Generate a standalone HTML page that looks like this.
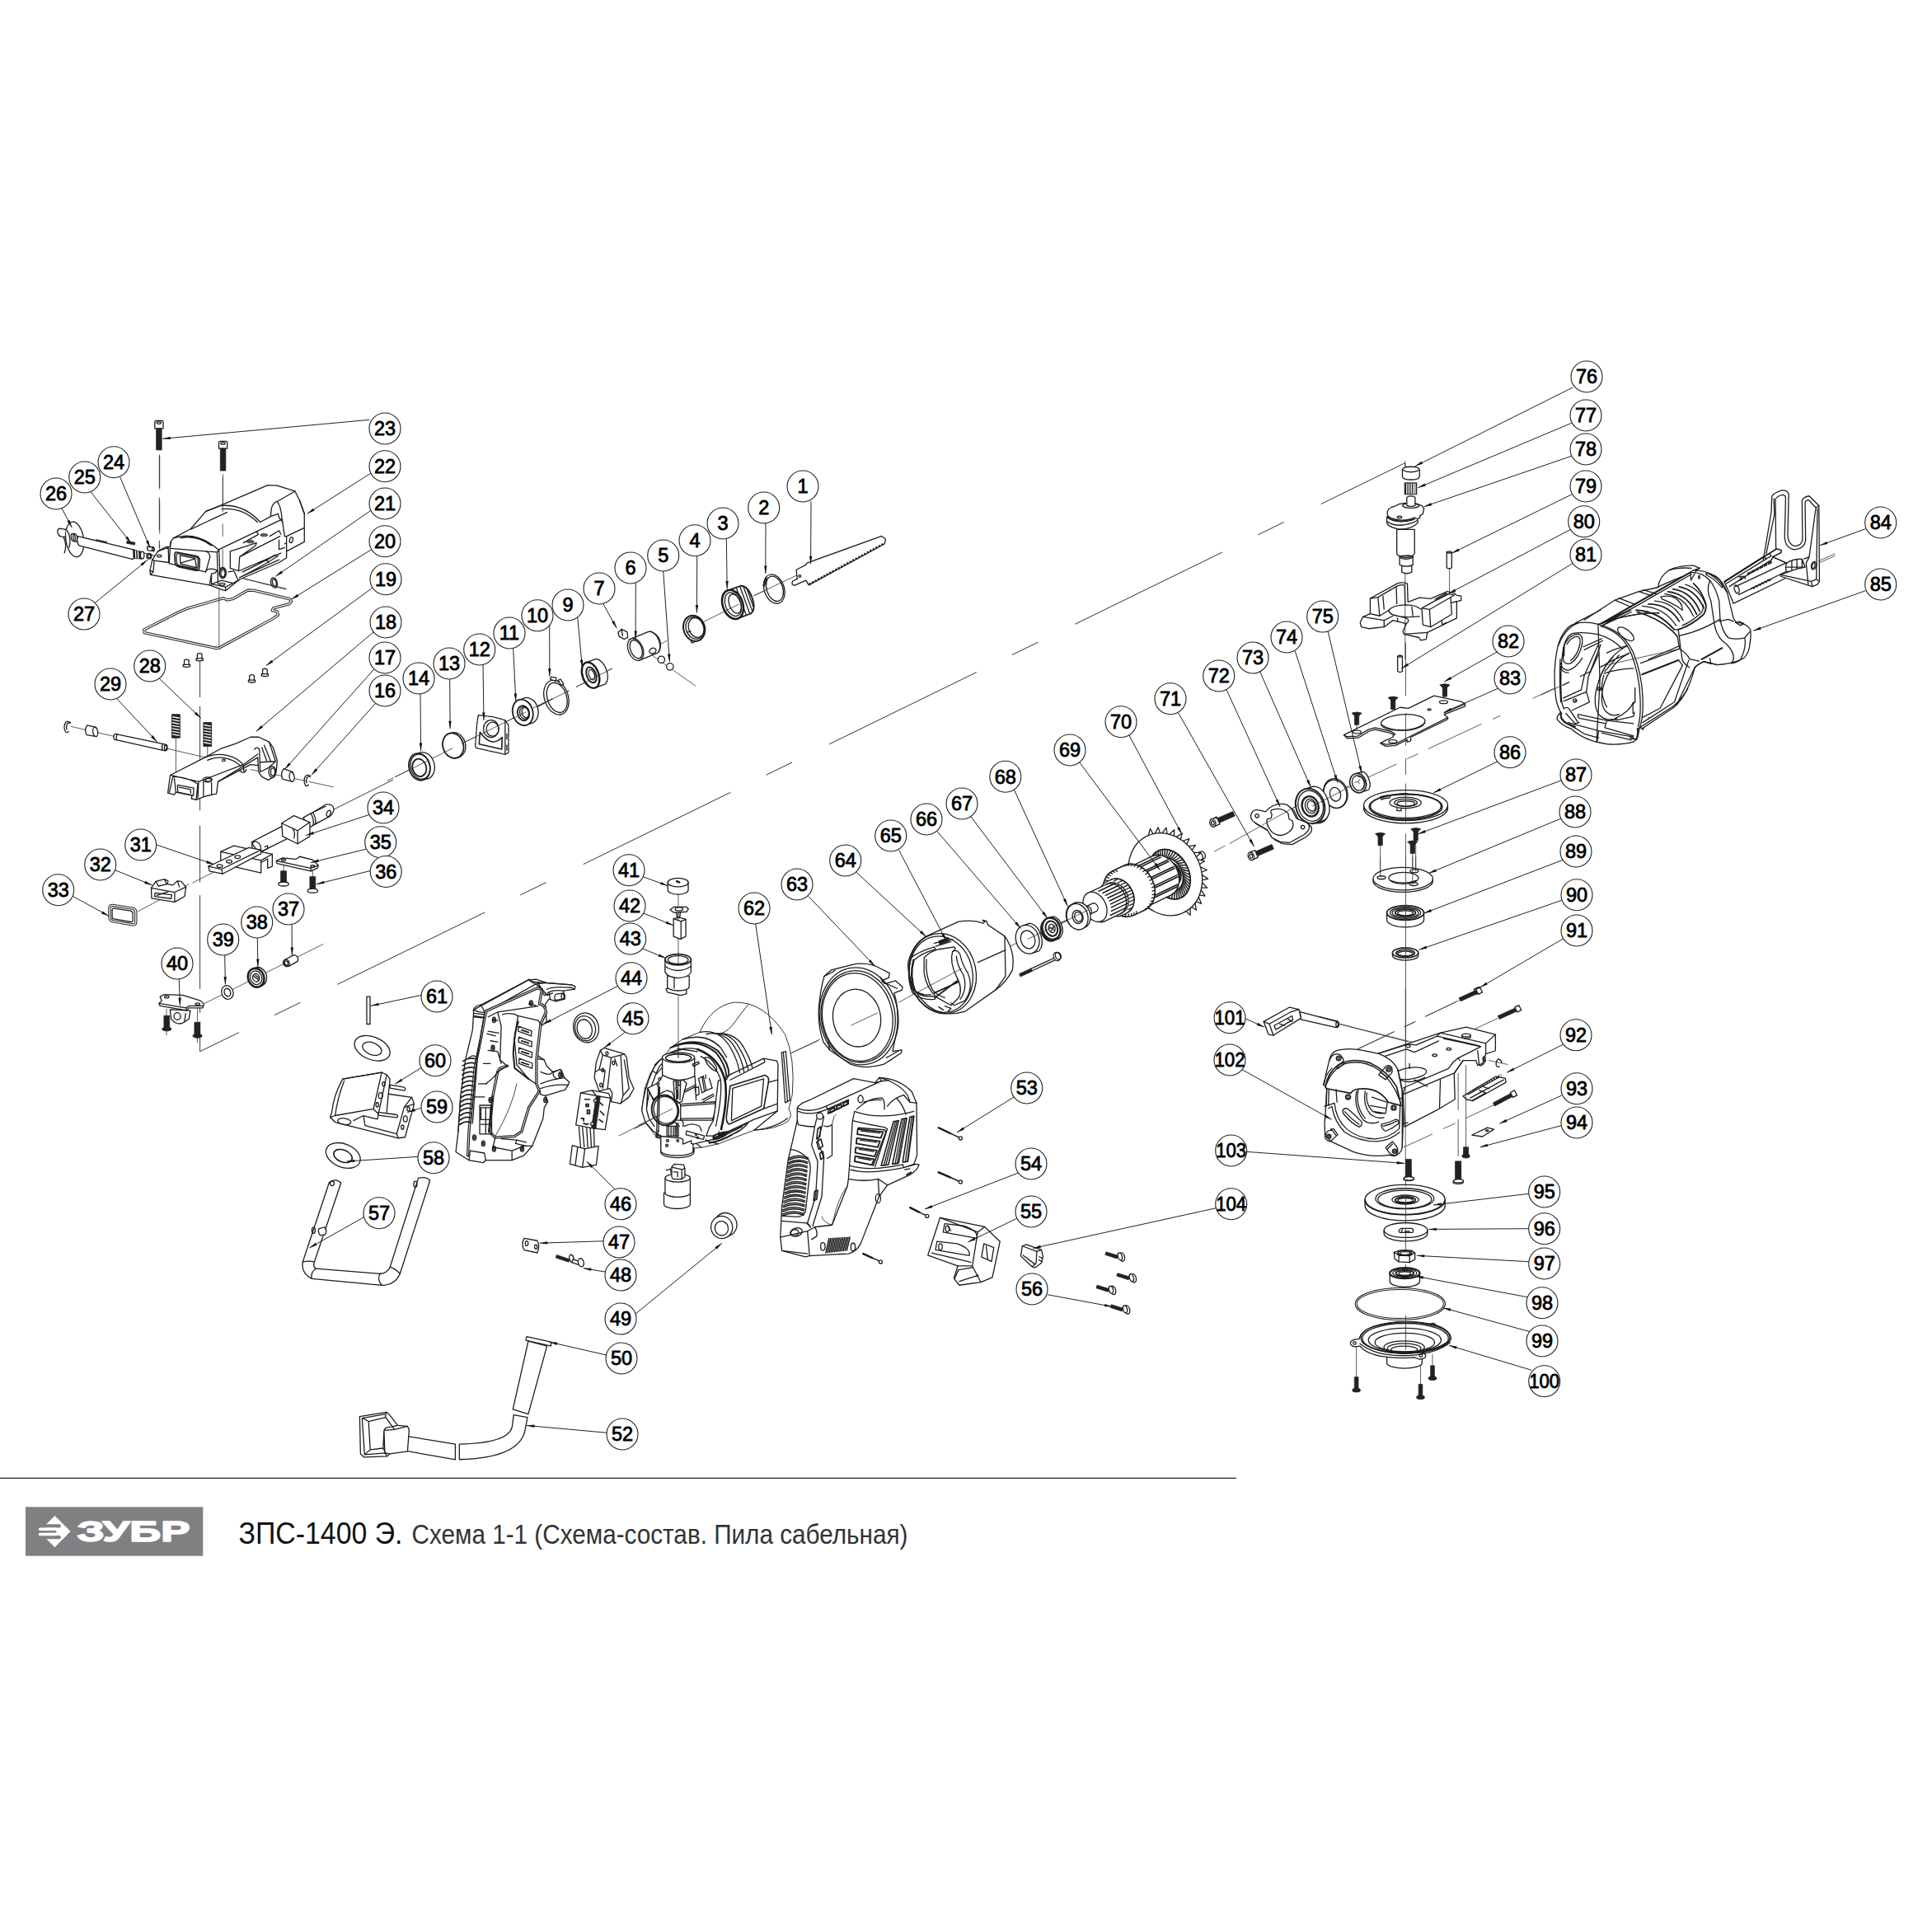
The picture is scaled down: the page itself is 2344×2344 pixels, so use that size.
<!DOCTYPE html>
<html lang="ru"><head><meta charset="utf-8"><title>ЗПС-1400 Э. Схема 1-1</title>
<style>
html,body{margin:0;padding:0;background:#fff;}
body{width:2344px;height:2344px;overflow:hidden;position:relative;font-family:"Liberation Sans",sans-serif;}
svg{position:absolute;left:0;top:0;display:block}
.p,.n,.t,.k,.g,.w{vector-effect:non-scaling-stroke}
.p{fill:#fff;stroke:#1c1c1c;stroke-width:1.3;stroke-linejoin:round;stroke-linecap:round}
.n{fill:none;stroke:#1c1c1c;stroke-width:1.3;stroke-linejoin:round;stroke-linecap:round}
.t{fill:none;stroke:#333;stroke-width:.8;stroke-linejoin:round;stroke-linecap:round}
.k{fill:#222;stroke:#222;stroke-width:.8;stroke-linejoin:round}
.g{fill:#ddd;stroke:#222;stroke-width:1}
.w{fill:none;stroke:#fff;stroke-width:1.3;stroke-linejoin:round}
.th{fill:none;stroke:#222;stroke-width:3.4;stroke-linejoin:round;vector-effect:non-scaling-stroke}
.ld{stroke:#222;stroke-width:1;fill:none}
.ar{fill:#111;stroke:none}
.ds{stroke:#333;stroke-width:1;fill:none;stroke-dasharray:46 16}
.dv{stroke:#333;stroke-width:1;fill:none;stroke-dasharray:40 12}
.ax{stroke:#222;stroke-width:.9;fill:none}
.lc{fill:#fff;stroke:#222;stroke-width:1.1}
.lt{font-family:"Liberation Sans",sans-serif;font-size:23.5px;fill:#000;stroke:#000;stroke-width:.8;text-anchor:middle}
</style></head><body>
<svg xmlns="http://www.w3.org/2000/svg" width="2344" height="2344" viewBox="0 0 2344 2344">
<g id="axes">

<line class="ds" x1="1704.7" y1="561.7" x2="242.7" y2="1275.7" style="stroke-dasharray:199 50 35 48;stroke-dashoffset:85.4"/>
<line class="ax" x1="1704.7" y1="561.7" x2="1704.7" y2="572"/>
<path class="ax" d="M242.6,1275.7V1239.4M242.6,1228.8V1213M242.6,1199.7V1086.2M242.6,1070.4V1001.8M242.6,983.3V856.6M242.6,846V798"/>
<line class="ax" x1="405" y1="982" x2="477" y2="946"/>
<line class="dv" x1="193.3" y1="551.7" x2="193.3" y2="665"/>
<line class="ax" x1="93" y1="650" x2="346.7" y2="715"/>

</g>
<g id="a01_topleft">
<g transform="translate(40,490) scale(0.18634)">
<!-- axes -->
<path class="t" d="M825,340V1000" stroke-dasharray="40 14"/>
<path class="t" d="M1237,460V700"/>
<path class="t" d="M300,880L700,975"/>
<!-- gasket 20 -->
<path class="th" d="M723,1470L950,1355L1010,1330L1240,1265L1265,1277L1300,1270L1400,1213L1440,1215L1670,1270L1682,1285L1670,1302L1565,1330L1558,1345L1590,1352L1596,1375L1560,1400L1210,1590L1190,1590L725,1490Z"/>
<path class="w" d="M723,1470L950,1355L1010,1330L1240,1265L1265,1277L1300,1270L1400,1213L1440,1215L1670,1270L1682,1285L1670,1302L1565,1330L1558,1345L1590,1352L1596,1375L1560,1400L1210,1590L1190,1590L725,1490Z"/>
<path class="t" d="M1212,1190V1585"/>
<!-- clip 21 -->
<ellipse class="p" cx="1570" cy="1165" rx="20" ry="34" transform="rotate(-15 1570 1165)"/>
<ellipse class="n" cx="1572" cy="1165" rx="12" ry="24" transform="rotate(-15 1570 1165)"/>
<!-- screws 23 -->
<path class="p" d="M793,120Q793,110 803,110H838Q848,110 848,120V160H793Z"/><ellipse class="n" cx="820" cy="124" rx="14" ry="7"/>
<rect class="k" x="803" y="160" width="35" height="140"/>
<path class="p" d="M1210,253Q1210,243 1220,243H1255Q1265,243 1265,253V290H1210Z"/><ellipse class="n" cx="1237" cy="257" rx="14" ry="7"/>
<rect class="k" x="1220" y="290" width="35" height="145"/>
<!-- lever 26 -->
<path class="p" d="M160,830Q160,810 180,812L215,818L218,868L185,865Q162,860 160,830Z"/>
<ellipse class="p" cx="272" cy="882" rx="58" ry="115" transform="rotate(-8 272 882)"/>
<path class="p" d="M210,818C235,830 250,880 235,935" />
<path class="n" d="M200,870C215,900 215,940 205,970"/>
<path class="p" d="M292,862L660,950Q680,985 650,1012L300,922Q280,895 292,862Z"/>
<ellipse class="n" cx="275" cy="872" rx="13" ry="26" transform="rotate(-10 275 872)"/>
<ellipse class="n" cx="262" cy="870" rx="13" ry="26" transform="rotate(-10 262 870)"/>
<path class="k" d="M652,950L700,960L705,1010L655,1005Z"/>
<path class="w" d="M668,955L670,1005M684,958L686,1008"/>
<ellipse class="p" cx="712" cy="985" rx="12" ry="24"/>
<path class="n" d="M410,885L480,900"/>
<!-- 25 spring -->
<path class="k" d="M612,893L665,903L663,918L610,908Z"/>
<!-- 24 -->
<path class="p" d="M745,928L778,932Q792,940 788,958L750,955Q740,942 745,928Z"/>
<ellipse class="n" cx="783" cy="945" rx="7" ry="13"/>
<!-- 27 -->
<ellipse class="p" cx="756" cy="992" rx="16" ry="18"/><ellipse class="n" cx="757" cy="992" rx="9" ry="11"/>
<!-- pins 19 -->
<g transform="translate(1000,1690)"><path class="p" d="M-15,-22Q0,-30 15,-22V8H22V20Q0,28 -22,20V8H-15Z"/><path class="n" d="M-15,8H15"/></g><g transform="translate(1085,1650)"><path class="p" d="M-15,-22Q0,-30 15,-22V8H22V20Q0,28 -22,20V8H-15Z"/><path class="n" d="M-15,8H15"/></g><g transform="translate(1425,1790)"><path class="p" d="M-15,-22Q0,-30 15,-22V8H22V20Q0,28 -22,20V8H-15Z"/><path class="n" d="M-15,8H15"/></g><g transform="translate(1510,1750)"><path class="p" d="M-15,-22Q0,-30 15,-22V8H22V20Q0,28 -22,20V8H-15Z"/><path class="n" d="M-15,8H15"/></g>
</g>

</g>
<g id="a01b_housing22">
<g transform="translate(170,580) scale(0.11387)">
<path class="p" d="M105,985L130,870L190,780L270,735L320,730L325,680L355,640L540,540L700,355L850,295L1360,75L1460,80L1650,140L1700,240L1750,380L1750,680L1560,780L1560,850L1480,900L1060,1080L910,1200L890,1195L740,1140L110,1030Z"/>
<path class="n" d="M355,640Q600,560 830,760M430,640Q600,600 760,720M320,730L330,680M330,750L820,790L840,760L1240,570M540,545L925,365M700,355Q770,330 850,295"/>
<path class="n" d="M850,295Q1100,270 1280,470M870,330Q1090,310 1250,470M1280,470L1390,410L1400,320Q1420,260 1460,250L1650,140M1460,250Q1500,300 1510,420L1540,620M1390,410L1470,380L1480,420L1520,470M1700,240L1750,380"/>
<path class="n" d="M1560,620L1750,530M1560,780V620L1540,620M1480,660L1480,760L1540,740M1540,700L1560,690"/>
<ellipse class="n" cx="1610" cy="660" rx="17" ry="30" transform="rotate(15 1610 660)"/>
<path class="n" d="M320,730L310,910L700,1000M190,780L300,740L305,900L150,880M105,985L140,1000L150,880L130,870M140,1000L110,1030"/>
<ellipse class="n" cx="205" cy="830" rx="22" ry="12"/>
<path class="n" style="stroke-width:1.6" d="M390,790L600,830Q635,840 635,880L630,960Q625,990 590,985L410,945Q375,935 372,900L368,820Q370,785 390,790Z"/>
<path class="n" d="M405,805L595,842Q618,848 618,880L614,950Q610,972 588,968L420,932Q392,925 390,900L386,832Q388,802 405,805ZM425,825L585,855L600,955L430,915ZM430,905L585,860"/>
<path class="n" d="M700,780Q740,790 745,840L700,1000M820,790L830,1130M840,760L850,1010M700,985Q760,950 820,985L800,1010L760,1020L740,1140M760,1020V1135"/>
<ellipse class="n" cx="880" cy="1010" rx="36" ry="56" style="stroke-width:1.6"/><ellipse class="n" cx="882" cy="1012" rx="22" ry="40"/>
<path class="n" d="M760,1130L870,1090L990,1120L910,1160ZM910,1160V1200M990,1120L1060,1080"/>
<ellipse class="n" cx="875" cy="1130" rx="30" ry="12"/>
<path class="n" d="M960,780L1240,690L1230,720L1060,840L1050,990L960,960ZM1060,840L1490,620M1050,990L1500,800M1090,1000Q1300,900 1440,820L1470,830Q1300,940 1100,1040M1060,1060L1480,870M940,1000L1000,990L1040,1080M1240,570L1260,600L1100,690M1380,620L1480,560L1500,600M1240,570L1510,440"/>
<ellipse class="k" cx="1175" cy="678" rx="40" ry="14" style="fill:#666"/><ellipse class="k" cx="1320" cy="607" rx="40" ry="14" style="fill:#666"/>
<path class="n" d="M1340,880Q1400,840 1440,820M1350,870L1370,900"/>
<path class="t" d="M880,0V360"/><path class="t" d="M880,490V620M880,760V1000" />
<path class="t" d="M1100,1070L1560,1180"/>
</g>

</g>
<g id="a02_lowerleft">
<g transform="translate(60,850) scale(0.19669)">
<path class="t" d="M135,160L960,350M1240,425L1580,495"/>
<path class="t" d="M1600,500L1760,535" stroke-dasharray="30 10"/>
<path class="t" d="M780,230V440M975,280V480"/>
<!-- e-clip -->
<path class="n" d="M128,135C100,115 85,150 95,185C100,200 110,198 118,190M128,140C112,130 100,150 106,178"/>
<!-- sleeve -->
<path class="p" d="M232,152L288,165Q300,190 290,222L230,212Q212,185 232,152Z"/>
<ellipse class="p" cx="283" cy="193" rx="15" ry="29" transform="rotate(-8 283 193)"/>
<!-- pin 29 -->
<path class="p" d="M405,205L715,270Q735,290 712,310L400,240Q390,220 405,205Z"/>
<path class="n" d="M418,208Q408,225 414,243M700,268Q690,285 697,305"/>
<ellipse class="n" cx="718" cy="290" rx="9" ry="18"/>
<!-- springs -->
<path class="k" d="M755,85H805V230H755Z" fill="#555"/>
<path class="w" d="M758,100L802,108M758,118L802,126M758,136L802,144M758,154L802,162M758,172L802,180M758,190L802,198M758,208L802,216"/>
<path class="k" d="M950,135H1000V282H950Z" fill="#555"/>
<path class="w" d="M953,150L997,158M953,168L997,176M953,186L997,194M953,204L997,212M953,222L997,230M953,240L997,248M953,258L997,266"/>
<!-- housing 18 -->
<path class="p" d="M745,460L960,350L1060,295L1150,265L1240,225L1290,225L1355,255L1380,290L1405,370L1400,430L1385,470L1350,490L1310,470L1290,440L1285,350L1040,500L1030,575L960,590L905,612L875,605L880,585L780,565L770,580L730,570Z"/>
<path class="n" d="M960,350C1050,312 1150,340 1195,395M975,368C1050,335 1130,355 1180,405"/>
<path class="n" d="M745,460L920,500L1195,395L1285,330M760,470C820,470 880,490 915,515L905,612M920,500L915,600"/>
<path class="n" d="M790,520L890,540L888,585L792,565ZM800,535L870,548L872,570"/>
<path class="n" d="M760,475L740,565M770,480L780,565"/>
<ellipse class="n" cx="975" cy="487" rx="28" ry="15"/><ellipse class="n" cx="980" cy="490" rx="18" ry="9"/>
<path class="n" d="M950,500V590M1000,505V580M1040,500L1240,395L1290,400"/>
<ellipse class="n" cx="1075" cy="368" rx="10" ry="6"/>
<path class="n" d="M1195,395L1200,440M1170,430Q1200,460 1215,425"/>
<path class="n" d="M1265,300Q1280,280 1295,300L1300,440M1310,290L1340,370M1325,275L1365,375M1355,255L1395,375M1300,380L1395,375L1350,415L1300,440"/>
<ellipse class="n" cx="1375" cy="440" rx="22" ry="35"/><ellipse class="n" cx="1378" cy="440" rx="13" ry="24"/>
<!-- sleeve 17 -->
<path class="p" d="M1445,420L1500,440Q1515,470 1500,500L1440,485Q1420,455 1445,420Z"/>
<ellipse class="p" cx="1495" cy="470" rx="15" ry="29" transform="rotate(-8 1495 470)"/>
<!-- clip 16 -->
<path class="n" d="M1608,465C1580,445 1565,480 1575,515C1580,530 1590,528 1598,520M1608,470C1592,460 1580,480 1586,508"/>
</g>

</g>
<g id="a03_rod">
<g transform="translate(40,960) scale(0.22774)">
<path class="t" d="M560,640L830,495"/>
<path class="t" d="M850,488L960,432" stroke-dasharray="30 12"/>
<path class="t" d="M1335,370V425M1490,400V455"/>
<!-- u bracket -->
<path class="p" d="M1000,322L1070,290L1275,335L1275,400L1250,410L1250,360L1215,380L1215,435L1000,385Z"/>
<path class="n" d="M1000,322L1215,368L1275,335M1215,368L1215,380"/>
<!-- rod -->
<path class="p" d="M1165,270L1330,185L1390,235L1215,322Q1180,310 1165,270Z"/>
<ellipse class="n" cx="1190" cy="296" rx="22" ry="30" transform="rotate(-28 1190 296)"/>
<path class="n" d="M1215,322L1250,305L1250,290L1235,296"/>
<!-- flat bar 31 -->
<path class="p" d="M935,400L1150,300L1215,312L1215,332L1010,440L940,425Z"/>
<path class="n" d="M935,400L1005,415L1215,312M1005,415L1010,440"/>
<ellipse class="n" cx="995" cy="398" rx="15" ry="8"/><ellipse class="n" cx="1045" cy="374" rx="15" ry="8"/><ellipse class="n" cx="1090" cy="350" rx="15" ry="8"/>
<!-- far cylinder + flat end -->
<path class="p" d="M1440,140L1500,108L1560,70Q1600,65 1603,95Q1600,125 1570,140L1510,172L1470,195Z"/>
<path class="n" d="M1480,118Q1500,150 1492,180M1490,112Q1512,145 1503,176M1500,108L1560,80M1510,172L1520,165"/>
<ellipse class="n" cx="1575" cy="118" rx="10" ry="17" transform="rotate(20 1575 118)"/>
<!-- block 34 -->
<path class="p" d="M1325,170L1390,130L1475,165L1475,240L1410,280L1330,240Z"/>
<path class="n" d="M1325,170L1410,210L1475,165M1410,210V280"/>
<path class="n" d="M1385,200Q1400,225 1390,250"/>
<!-- plate 35 -->
<path class="p" d="M1297,370L1330,355L1400,362L1420,348L1490,365L1520,395L1515,410L1480,425L1300,385Z"/>
<path class="n" d="M1297,370L1480,410L1520,395M1480,410V425"/>
<ellipse class="n" cx="1335" cy="366" rx="11" ry="6"/><ellipse class="n" cx="1490" cy="400" rx="11" ry="6"/>
<!-- screws 36 -->
<rect class="k" x="1320" y="425" width="30" height="62"/><ellipse class="p" cx="1335" cy="494" rx="27" ry="11"/>
<rect class="k" x="1475" y="455" width="30" height="66"/><ellipse class="p" cx="1490" cy="530" rx="27" ry="11"/>
<!-- block 32 -->
<path class="p" d="M630,515L655,480L700,468L720,478L715,495L745,500L770,478L790,480L815,510L808,560L755,590L632,570Z"/>
<path class="n" d="M630,515L755,538L815,510M755,538V590M650,542L740,552L736,572L648,560ZM655,480L668,505M700,468L712,495M770,478L780,510M668,505L715,495"/>
<path class="n" d="M660,555L720,535"/>
<!-- seal 33 -->
<path class="th" d="M425,608L530,624Q548,628 548,645L548,695Q548,714 530,711L425,692Q408,688 408,672L408,625Q408,606 425,608Z"/>
<path class="w" d="M425,608L530,624Q548,628 548,645L548,695Q548,714 530,711L425,692Q408,688 408,672L408,625Q408,606 425,608Z"/>
<path class="n" d="M432,624L520,637Q532,640 532,652L532,688Q532,698 520,696L432,680Q422,678 422,668L422,634Q422,622 432,624Z"/>
</g>

</g>
<g id="a04_p37_40">
<g transform="translate(170,1130) scale(0.13458)">
<path class="t" d="M580,650L1650,115M238,700V935M517,660V1000"/>
<!-- 40 -->
<path class="p" d="M270,705L280,790Q340,860 400,815L440,790L452,715Z"/>
<ellipse class="n" cx="335" cy="765" rx="30" ry="32"/>
<path class="n" d="M400,815L410,740"/>
<path class="p" d="M180,590L215,570L385,575L545,625L575,655L565,690L440,690L420,712L180,672L170,650L195,625Z"/>
<path class="n" d="M170,650L415,690L440,672L565,672M415,690L420,712"/>
<ellipse class="n" cx="240" cy="590" rx="20" ry="10"/><ellipse class="n" cx="518" cy="655" rx="20" ry="10"/>
<rect class="k" x="215" y="760" width="50" height="105"/><ellipse class="k" cx="240" cy="880" rx="42" ry="18"/>
<rect class="k" x="490" y="820" width="50" height="110"/><ellipse class="k" cx="517" cy="942" rx="42" ry="18"/>
<!-- 39 -->
<ellipse class="p" cx="787" cy="550" rx="52" ry="63" transform="rotate(-20 787 550)"/><ellipse class="n" cx="787" cy="550" rx="28" ry="36" transform="rotate(-20 787 550)"/>
<!-- 38 -->
<ellipse class="p" cx="1068" cy="408" rx="72" ry="86" transform="rotate(-20 1068 408)"/>
<ellipse class="p" cx="1045" cy="418" rx="72" ry="86" transform="rotate(-20 1045 418)" style="stroke-width:2.6"/>
<ellipse class="n" cx="1045" cy="418" rx="52" ry="63" transform="rotate(-20 1045 418)"/>
<ellipse class="n" cx="1045" cy="418" rx="30" ry="36" transform="rotate(-20 1045 418)"/>
<path class="n" d="M1020,400L1070,440M1040,395L1075,425"/>
<!-- 37 -->
<path class="p" d="M1300,258L1385,213Q1430,215 1422,268L1340,315Q1290,310 1300,258Z"/>
<ellipse class="n" cx="1318" cy="286" rx="27" ry="33" transform="rotate(-25 1318 286)"/>
<ellipse class="n" cx="1318" cy="286" rx="15" ry="20" transform="rotate(-25 1318 286)"/>
</g>

</g>
<g id="a05_blade">
<g transform="translate(640,640) scale(0.23292)">
<path class="t" d="M1180,355L1400,250M920,490L1100,400M555,680L725,590M255,830L440,735M30,945L215,850M470,540L875,825"/>
<!-- blade 1 -->
<path class="p" d="M1400,220L1450,195L1455,185L1845,45L1865,60L1860,85L1465,300L1450,275L1390,302L1378,295L1380,280L1405,268Z"/>
<path d="M1467,296L1858,83" fill="none" stroke="#222" stroke-width="2.6" stroke-dasharray="2.2 1.8" vector-effect="non-scaling-stroke"/>
<circle class="n" cx="1418" cy="253" r="6"/>
<!-- ring 2 -->
<g transform="rotate(-18 1285 320)"><ellipse class="p" cx="1285" cy="320" rx="52" ry="78"/><ellipse class="n" cx="1288" cy="320" rx="42" ry="67"/></g>
<path class="n" d="M1240,262L1228,300M1246,262L1234,305"/>
<path class="t" d="M1180,355L1330,283"/>
<!-- nut 3 -->
<g transform="rotate(-20 1085 395)">
<path class="p" d="M1070,318H1140Q1175,330 1175,395Q1175,460 1140,472H1070Z" style="stroke-width:1.8"/>
<path class="n" d="M1095,318V472M1115,320V470M1135,322V468M1152,330V460M1165,345V445"/>
<ellipse class="p" cx="1068" cy="395" rx="52" ry="78" style="stroke-width:2.6"/>
<ellipse class="n" cx="1070" cy="395" rx="40" ry="64"/>
<ellipse class="n" cx="1080" cy="395" rx="30" ry="52"/>
</g>
<path class="t" d="M1030,435L1100,400"/>
<!-- spring ring 4 -->
<g transform="rotate(-18 868 525)"><ellipse class="p" cx="868" cy="525" rx="55" ry="68" style="stroke-width:2"/><ellipse class="n" cx="872" cy="525" rx="46" ry="58"/><ellipse class="n" cx="880" cy="525" rx="40" ry="52"/></g>
<path class="n" d="M850,590L858,602L870,595M835,545L850,540"/>
<!-- 7 -->
<path class="p" d="M472,548L490,530L520,545L522,570L505,582L478,568Z"/>
<path class="n" d="M490,530L495,565"/>
<!-- cylinder 6 -->
<g transform="rotate(-22 600 620)">
<path class="p" d="M560,560H660Q690,575 690,620Q690,665 660,680H560Z"/>
<path class="n" d="M668,562Q695,590 695,620Q695,650 668,678"/>
<ellipse class="p" cx="560" cy="620" rx="38" ry="60"/><ellipse class="n" cx="563" cy="620" rx="29" ry="50"/>
<ellipse class="n" cx="640" cy="660" rx="18" ry="14"/>
</g>
<!-- balls 5 -->
<circle class="p" cx="697" cy="688" r="18"/><circle class="p" cx="742" cy="725" r="18"/>
<!-- bearing 9 -->
<g transform="rotate(-20 340 765)">
<path class="p" d="M330,695H385Q415,715 415,765Q415,815 385,835H330Z"/>
<ellipse class="p" cx="328" cy="765" rx="42" ry="70" style="stroke-width:2.4"/>
<ellipse class="n" cx="332" cy="765" rx="24" ry="42" style="stroke-width:2"/>
<ellipse class="n" cx="334" cy="765" rx="14" ry="28"/>
</g>
<path class="t" d="M255,830L440,735"/>
<!-- circlip 10 -->
<g transform="rotate(-18 150 885)"><ellipse class="p" cx="150" cy="885" rx="62" ry="92"/><ellipse class="n" cx="153" cy="887" rx="50" ry="80"/></g>
<path class="p" d="M118,790L122,778L150,783L146,800ZM160,795L172,790L188,815L175,822Z"/>
<path class="t" d="M30,945L215,850"/>
</g>

</g>
<g id="a06_p11_14">
<g transform="translate(470,820) scale(0.10352)">
<path class="t" d="M0,1230L70,1195M90,1185L760,850M870,795L1932,270"/>
<!-- 14 -->
<g transform="rotate(-15 400 1060)">
<ellipse class="p" cx="430" cy="1060" rx="122" ry="160"/>
<ellipse class="p" cx="375" cy="1060" rx="122" ry="160" style="stroke-width:1.8"/>
<ellipse class="n" cx="385" cy="1060" rx="112" ry="148"/>
<ellipse class="n" cx="372" cy="1068" rx="80" ry="105" style="stroke-width:1.8"/>
</g>
<path class="t" d="M90,1185L480,990"/>
<!-- 13 -->
<g transform="rotate(-18 780 815)">
<ellipse class="p" cx="795" cy="815" rx="120" ry="150"/>
<ellipse class="p" cx="770" cy="815" rx="120" ry="150" style="stroke-width:1.8"/>
</g>
<path class="t" d="M680,890L760,850"/>
<!-- 12 -->
<path class="p" d="M1065,460L1240,480L1380,520L1420,580L1420,900L1380,920L1040,845L1030,820L1050,560Z" stroke-dasharray="5 1.2"/>
<path class="n" d="M1085,660L1075,800L1340,860L1345,720Q1220,850 1085,660Z" style="stroke-width:1.6"/>
<path class="n" d="M1380,520V920M1400,680V740M1400,810V870"/>
<ellipse class="n" cx="1215" cy="620" rx="90" ry="102"/>
<ellipse class="n" cx="1232" cy="625" rx="72" ry="82"/>
<path class="t" d="M870,795L1932,270"/>
<!-- 11 -->
<g transform="rotate(-15 1600 420)">
<ellipse class="p" cx="1650" cy="420" rx="118" ry="155"/>
<ellipse class="p" cx="1585" cy="425" rx="118" ry="155" style="stroke-width:1.8"/>
<ellipse class="n" cx="1590" cy="435" rx="68" ry="88" style="stroke-width:1.8"/>
<ellipse class="n" cx="1600" cy="435" rx="52" ry="72"/>
<ellipse class="n" cx="1615" cy="435" rx="42" ry="60"/>
</g>
<path class="t" d="M1500,485L1620,425M1710,375L1932,270"/>
</g>

</g>
<g id="b01_p76_80">
<g transform="translate(1620,540) scale(0.13458)">
<path class="t" d="M630,145V200M630,1160V1932M1030,1115V1320"/>
<!-- 80 yoke -->
<path class="p" d="M225,1600L250,1548L315,1520L315,1382L560,1247Q600,1232 650,1250L655,1415L760,1375L860,1385L1010,1320L1075,1335L1095,1355L1135,1360L1135,1400L1095,1410L1095,1560L830,1690L820,1750L770,1760L755,1735L620,1705L610,1680L640,1610L520,1580L440,1640L300,1655L235,1640Z"/>
<path class="n" d="M315,1382L385,1372L400,1540L315,1520M385,1372L560,1270Q600,1255 625,1262L630,1440M400,1540L480,1490M430,1360L440,1480M550,1280L555,1430"/>
<path class="n" d="M480,1490Q520,1440 640,1440Q740,1445 770,1480M520,1530Q600,1560 760,1545M480,1490Q490,1520 520,1530L640,1560Q680,1580 640,1610M560,1560L565,1590"/>
<path class="n" d="M250,1548L440,1580L520,1540M440,1580L440,1640M620,1705L830,1690M690,1460L700,1540"/>
<path class="n" d="M780,1470L850,1482L860,1640L790,1620ZM780,1470L1010,1342L1075,1352L850,1482M1040,1372L1050,1525L860,1640M1095,1410L1050,1420"/>
<path class="n" d="M900,1390L1000,1335M920,1395L1020,1342M960,1580L965,1620L1000,1600"/>
<path class="t" d="M630,1250V1700"/>
<!-- 78 cam + shaft -->
<path class="p" d="M600,1090H690V1145Q645,1170 600,1145Z"/>
<path class="p" d="M580,1000H700V1080Q640,1105 580,1080Z"/>
<path class="p" d="M555,760H715V975Q700,1000 690,1000L660,995L580,1000Q555,990 555,975Z"/>
<path class="n" d="M580,1000Q640,1030 700,1000M585,1015Q640,1040 695,1015"/>
<path class="p" d="M465,650V700Q470,735 560,755Q660,765 720,720L745,700L740,650Z"/>
<path class="n" d="M468,690Q560,750 700,700L740,680"/>
<path class="p" d="M470,600Q480,562 540,550L580,530Q680,510 780,545L800,572L790,620L760,640L765,655L740,665L715,655Q600,705 500,672Q465,650 470,600Z"/>
<path class="n" d="M470,640Q560,700 700,662L720,655M465,650Q560,720 715,670"/>
<ellipse class="n" cx="580" cy="650" rx="20" ry="9"/>
<ellipse class="n" cx="682" cy="545" rx="75" ry="22"/>
<path class="p" d="M645,470Q682,450 720,470V545Q682,560 645,545Z"/>
<!-- 77 gear -->
<rect class="k" x="625" y="340" width="110" height="105" fill="#666"/>
<path class="w" d="M645,345V440M665,345V440M685,345V440M705,345V440M720,345V440"/>
<!-- 76 cap -->
<path class="p" d="M605,225Q605,195 682,195Q760,195 760,225V280Q760,312 682,312Q605,312 605,280Z"/>
<path class="n" d="M605,225Q682,262 760,225"/>
<!-- pin 79 -->
<path class="p" d="M1005,965Q1028,950 1050,965V1105Q1028,1122 1005,1105Z"/>
<path class="n" d="M1005,965Q1028,982 1050,965"/>
</g>

</g>
<g id="b02_p81_87">
<g transform="translate(1600,780) scale(0.14493)">
<path class="t" d="M1050,445V495M622,545V820M318,675V760M515,1690V1932M785,1750V1932M812,1640V1932"/>
<path class="t" d="M650,1015L415,1125M245,1200L100,1275"/>
<!-- pin 81 -->
<path class="p" d="M660,112Q680,98 700,112V238Q680,252 660,238Z"/><path class="n" d="M660,112Q680,126 700,112"/>
<!-- plate 83 -->
<path class="p" d="M210,770L680,540L750,548L965,443L1190,490L1225,510L1225,530L1050,600L1080,625L1080,640L770,790L770,820L740,830L740,810L640,860L560,865L515,840L560,815L620,790L630,770L600,755L470,725L420,740L330,795L240,800Z"/>
<path class="n" d="M210,770L235,785L325,780L415,725L470,710L605,740L640,765M520,838L560,850L640,845L740,795L1080,625M1050,585L1225,510"/>
<ellipse class="n" cx="705" cy="665" rx="185" ry="66" transform="rotate(-4 705 665)"/>
<path class="n" d="M525,685Q600,740 760,730Q860,715 888,670"/>
<ellipse class="n" cx="320" cy="745" rx="35" ry="13"/><ellipse class="n" cx="620" cy="825" rx="35" ry="13"/><ellipse class="n" cx="1045" cy="495" rx="35" ry="13"/><ellipse class="n" cx="925" cy="558" rx="15" ry="7"/>
<!-- screws 82 -->
<g transform="translate(1055,352)"><rect class="k" x="-18" y="12" width="36" height="85"/><path class="k" d="M-42,0Q0,-18 42,0L18,22H-18Z"/></g><g transform="translate(622,458)"><rect class="k" x="-18" y="12" width="36" height="85"/><path class="k" d="M-42,0Q0,-18 42,0L18,22H-18Z"/></g><g transform="translate(318,588)"><rect class="k" x="-18" y="12" width="36" height="85"/><path class="k" d="M-42,0Q0,-18 42,0L18,22H-18Z"/></g>
<!-- 74 washer -->
<g transform="rotate(-15 140 1260)"><ellipse class="p" cx="140" cy="1260" rx="100" ry="125"/><ellipse class="n" cx="140" cy="1262" rx="48" ry="62"/></g>
<path class="t" d="M245,1200L100,1275"/>
<!-- 73 partial -->
<g transform="rotate(-15 -20 1370)"><ellipse class="p" cx="-20" cy="1370" rx="100" ry="140" style="stroke-width:2"/><ellipse class="n" cx="-40" cy="1375" rx="80" ry="115"/></g>
<!-- 75 bearing -->
<g transform="rotate(-18 340 1170)">
<path class="p" d="M330,1090H395Q425,1110 425,1170Q425,1230 395,1250H330Z"/>
<ellipse class="p" cx="328" cy="1170" rx="68" ry="82" style="stroke-width:1.6"/>
<ellipse class="n" cx="330" cy="1170" rx="50" ry="64"/>
<path class="n" d="M345,1115Q385,1130 385,1170Q385,1210 345,1228"/>
</g>
<path class="t" d="M300,1170L330,1160L345,1140M330,1160L340,1180"/>
<!-- disc 86 -->
<ellipse class="p" cx="728" cy="1382" rx="352" ry="128"/>
<ellipse class="p" cx="728" cy="1360" rx="352" ry="128"/>
<ellipse class="n" cx="728" cy="1372" rx="305" ry="106" style="stroke-width:1.8"/>
<ellipse class="n" cx="728" cy="1366" rx="296" ry="100"/>
<ellipse class="n" cx="725" cy="1338" rx="132" ry="47"/><ellipse class="n" cx="728" cy="1338" rx="95" ry="32"/><ellipse class="n" cx="730" cy="1345" rx="75" ry="22"/>
<path class="n" d="M515,1290Q560,1270 600,1280L590,1300Q550,1295 525,1312ZM655,1385V1405H690V1385M640,1275Q690,1255 740,1262"/>
<!-- screws 87 -->
<g transform="translate(515,1598)"><rect class="k" x="-18" y="12" width="36" height="85"/><path class="k" d="M-42,0Q0,-18 42,0L18,22H-18Z"/></g><g transform="translate(812,1558)"><rect class="k" x="-18" y="12" width="36" height="85"/><path class="k" d="M-42,0Q0,-18 42,0L18,22H-18Z"/></g><g transform="translate(785,1665)"><rect class="k" x="-18" y="12" width="36" height="85"/><path class="k" d="M-42,0Q0,-18 42,0L18,22H-18Z"/></g>
<!-- axis -->
<path class="t" d="M728,0V440M728,590V860M728,970V1100M728,1180V1500M728,1600V1932"/>
<path class="t" d="M1518,610L1460,637M1360,680L920,885M830,930L740,970"/>
</g>

</g>
<g id="b03_p88_91">
<g transform="translate(1600,1040) scale(0.14493)">
<path class="t" d="M1150,1210L890,1335M810,1375L715,1420M625,1465L320,1610M170,1395L830,1560"/>
<!-- 88 flange -->
<ellipse class="p" cx="705" cy="198" rx="250" ry="95"/>
<ellipse class="p" cx="705" cy="180" rx="250" ry="95"/>
<ellipse class="n" cx="710" cy="175" rx="125" ry="48"/><path class="n" d="M600,195Q700,235 815,195"/>
<ellipse class="n" cx="525" cy="170" rx="35" ry="13"/><ellipse class="n" cx="800" cy="115" rx="35" ry="13"/><ellipse class="n" cx="795" cy="225" rx="35" ry="13"/>
<path class="t" d="M515,0V165M785,0V225M812,0V118"/>
<!-- 89 bearing -->
<path class="p" d="M570,465V525A155,60 0 0 0 880,525V465Z"/>
<ellipse class="p" cx="725" cy="465" rx="155" ry="60" style="stroke-width:1.8"/>
<ellipse class="n" cx="725" cy="465" rx="128" ry="48"/><ellipse class="n" cx="725" cy="465" rx="110" ry="40"/><ellipse class="n" cx="725" cy="465" rx="85" ry="30" style="stroke-width:1.8"/><ellipse class="n" cx="725" cy="468" rx="65" ry="21"/>
<!-- 90 seal -->
<path class="p" d="M617,800V822A108,42 0 0 0 833,822V800Z"/>
<ellipse class="p" cx="725" cy="800" rx="108" ry="42" style="stroke-width:1.6"/>
<ellipse class="n" cx="725" cy="802" rx="78" ry="27" style="stroke-width:1.6"/><ellipse class="n" cx="725" cy="808" rx="65" ry="20"/>
<!-- 91 screw -->
<path class="k" d="M1180,1180L1305,1120L1315,1140L1190,1200Z"/>
<path class="p" d="M1300,1105L1345,1085L1362,1125L1318,1148Z"/><ellipse class="n" cx="1340" cy="1115" rx="14" ry="24" transform="rotate(-25 1340 1115)"/>
<!-- 101 rod end -->
<path class="p" d="M0,1335L150,1372Q175,1395 150,1422L0,1390Z"/><ellipse class="n" cx="152" cy="1397" rx="13" ry="25"/>
<path class="n" d="M135,1370Q120,1395 133,1420"/>
<path class="t" d="M728,0V1850"/>
</g>

</g>
<g id="b04_housing102">
<g transform="translate(1480,1200) scale(0.19669)">
<path class="t" d="M735,215L1160,325M1475,70L1275,165M1200,205L1150,228M1075,262L850,370M1715,180L1520,270M1690,715L1520,795M1450,830L1380,860M1310,895L1135,975M1660,440L1775,465"/>
<!-- lever 101 -->
<path class="p" d="M495,140L720,200Q742,218 718,237L500,187Z"/><ellipse class="n" cx="725" cy="218" rx="9" ry="17"/>
<path class="p" d="M270,200L430,112L488,125L500,180L330,285L300,280Z"/>
<path class="n" d="M270,200L305,215L330,285M305,215L440,140L488,125M335,225L345,250L450,190L445,165ZM370,215L400,225M420,185L445,200"/>
<!-- housing body -->
<path class="p" d="M970,400L1360,270L1520,235L1700,280L1700,380L1640,400L1620,460L1590,470L1580,440L1500,440L1445,520L1450,680L1350,740L1140,850L1130,650Z"/>
<path class="n" d="M1360,270L1640,335L1700,280M1640,335L1640,400M1360,270L1340,290L1210,345L1160,340L970,400M1380,305L1610,355L1470,425L1440,450L1410,490L1130,610M1340,290L1600,350M1000,420L1150,370L1200,390L1350,320"/>
<path class="n" d="M1130,650L1440,520M1360,560L1355,735M1445,520L1500,440M1470,425L1480,440M1140,610L1130,650"/>
<ellipse class="n" cx="1175" cy="520" rx="100" ry="35" transform="rotate(-8 1175 520)"/><path class="n" d="M1110,560Q1180,590 1265,545"/>
<ellipse class="n" cx="1325" cy="408" rx="14" ry="7"/><ellipse class="n" cx="1412" cy="370" rx="14" ry="7"/><ellipse class="n" cx="1160" cy="352" rx="14" ry="8"/>
<ellipse class="n" cx="1520" cy="285" rx="26" ry="10"/><path class="n" d="M1494,285V300Q1520,312 1546,300V285"/>
<path class="n" d="M1590,380L1600,470Q1620,480 1640,440M1170,460V490M1200,560L1280,600"/>
<ellipse class="n" cx="1630" cy="430" rx="8" ry="14"/>
<path class="n" d="M1722,430Q1700,440 1705,470Q1712,485 1725,478M1725,435Q1740,440 1738,455"/>
<!-- screws right -->
<path class="k" fill="#555" d="M1485,75L1591,27L1582,7L1475,55Z"/><path class="p" d="M1594,32L1619,20L1605,-10L1579,1Z"/><path class="k" fill="#555" d="M1725,185L1831,137L1822,117L1715,165Z"/><path class="p" d="M1834,142L1859,130L1845,100L1819,111Z"/><path class="k" fill="#555" d="M1695,722L1805,663L1795,643L1685,702Z"/><path class="p" d="M1808,668L1833,655L1817,625L1792,638Z"/>
<!-- 92 rack -->
<path class="p" d="M1500,660L1700,540L1760,550L1765,575L1560,690L1520,680Z"/>
<path class="n" d="M1530,650L1720,545M1545,672L1750,560M1600,625L1640,640L1560,685M1620,600L1660,615" />
<path d="M1560,625L1735,530" fill="none" stroke="#222" stroke-width="2.4" stroke-dasharray="1.6 1.6" vector-effect="non-scaling-stroke"/>
<!-- 93 -->
<path class="p" d="M1555,900L1650,855L1690,865L1620,910Z"/><ellipse class="n" cx="1648" cy="872" rx="9" ry="5"/>
<!-- 94 screw -->
<path class="t" d="M1518,470V975"/><path class="t" d="M1470,520V1060" stroke-dasharray="44 12"/>
<rect class="k" x="1503" y="975" width="30" height="50"/><ellipse class="k" cx="1518" cy="1030" rx="24" ry="12"/>
<!-- 103 screws -->
<rect class="k" x="1145" y="1050" width="36" height="115" fill="#555"/><ellipse class="p" cx="1165" cy="1170" rx="32" ry="12"/>
<rect class="k" x="1452" y="1062" width="36" height="120" fill="#555"/><ellipse class="p" cx="1470" cy="1190" rx="32" ry="12"/>
<path class="t" d="M1145,0V1050"/>
</g>

</g>
<g id="b04b_flange102">
<g transform="translate(1590,1270) scale(0.10352)">
<path class="p" d="M160,440Q180,300 220,160Q240,60 320,40Q450,10 600,40L800,80Q960,140 1020,260L1075,520L1085,900L1075,1180Q1060,1260 980,1280L920,1270Q700,1300 500,1230L240,1110L170,1040L165,900L180,700L190,500Z"/>
<path class="n" d="M220,160Q260,60 340,90Q380,120 390,170L310,235M860,260Q890,200 940,230Q970,260 950,310L900,360L820,300ZM300,235L380,175L395,195L320,255ZM820,300L900,360L880,385L800,330Z"/>
<circle class="n" cx="330" cy="135" r="28"/><circle class="n" cx="330" cy="135" r="13"/><circle class="n" cx="915" cy="265" r="28"/><circle class="n" cx="915" cy="265" r="13"/>
<path class="n" style="stroke-width:1.7" d="M175,470Q200,300 330,210Q500,120 700,190Q900,280 1010,470L1050,640L1060,690L910,650Q800,470 560,495Q500,500 470,545L190,490Z"/>
<path class="n" d="M190,430Q240,280 400,200Q600,140 800,270Q960,400 1040,610M150,450Q170,330 250,250"/>
<path class="n" d="M540,520Q500,700 620,860Q700,920 800,880M560,500Q520,690 640,840M640,520Q610,680 700,790Q780,850 860,830M660,540Q640,660 720,750Q780,790 880,780L900,660M720,590L900,650M700,690L880,720M740,760L870,780"/>
<circle class="n" cx="440" cy="590" r="30"/><circle class="n" cx="440" cy="590" r="16"/><circle class="n" cx="975" cy="715" r="30"/><circle class="n" cx="975" cy="715" r="16"/>
<path class="n" d="M190,690L280,660Q300,850 420,960Q560,1080 760,1080Q920,1070 1040,960L1050,690M210,720L250,700Q280,880 400,1000Q560,1110 780,1110Q940,1095 1045,1000M300,500L310,650M190,500L185,680L165,700M215,500L210,690"/>
<path class="n" d="M380,740Q400,710 440,730Q520,800 600,880Q610,920 570,940Q480,900 390,790Q370,760 380,740ZM830,910Q920,890 1000,850Q1040,860 1030,900Q960,960 880,990Q830,960 830,910ZM400,760Q480,850 570,910M850,930Q930,915 1010,870"/>
<path class="n" d="M170,1040Q160,1090 230,1110L320,1030L270,960L200,990ZM240,960L300,1040M880,1180L960,1110L1010,1170Q1040,1230 1000,1270Q950,1280 920,1240ZM900,1200L960,1140"/>
<circle class="n" cx="215" cy="1050" r="25"/><circle class="n" cx="215" cy="1050" r="12"/><circle class="n" cx="985" cy="1225" r="25"/><circle class="n" cx="985" cy="1225" r="12"/>
<path class="n" d="M1020,260Q1060,400 1075,520M1040,610L1075,600M1085,900L1140,890M1075,520L1075,1180"/>
</g>

</g>
<g id="b05_p95_100">
<g transform="translate(1600,1420) scale(0.14493)">
<path class="t" d="M315,1480V1730M852,1570V1790M952,1540V1635"/>
<!-- 100 cover -->
<path class="p" d="M570,1560V1615A148,45 0 0 0 865,1615V1560Z"/>
<path class="p" d="M340,1410L300,1415Q262,1425 265,1450Q270,1475 310,1475L345,1470Q420,1570 720,1570L800,1565L840,1580Q890,1580 895,1555Q895,1530 860,1525Q1080,1480 1108,1410Q1100,1330 960,1290Q720,1240 480,1300Q350,1340 340,1410Z"/>
<ellipse class="n" cx="725" cy="1400" rx="372" ry="132"/><ellipse class="n" cx="725" cy="1405" rx="360" ry="125"/>
<path class="n" d="M365,1440Q500,1540 760,1530Q980,1510 1085,1430M345,1450Q480,1560 760,1550Q990,1530 1100,1440"/>
<ellipse class="n" cx="720" cy="1420" rx="305" ry="100"/><ellipse class="n" cx="720" cy="1440" rx="250" ry="78"/>
<ellipse class="n" cx="715" cy="1480" rx="170" ry="52"/><ellipse class="n" cx="715" cy="1490" rx="140" ry="42"/><ellipse class="n" cx="715" cy="1500" rx="110" ry="30"/>
<circle class="n" cx="300" cy="1445" r="12"/><circle class="n" cx="855" cy="1550" r="12"/>
<path class="n" d="M930,1285L965,1280L985,1300"/>
<!-- screws -->
<rect class="k" x="299" y="1730" width="32" height="105"/><ellipse class="k" cx="315" cy="1840" rx="34" ry="16"/><rect class="k" x="836" y="1790" width="32" height="105"/><ellipse class="k" cx="852" cy="1900" rx="34" ry="16"/><rect class="k" x="936" y="1635" width="32" height="100"/><ellipse class="k" cx="952" cy="1740" rx="34" ry="16"/>
<!-- 99 o-ring -->
<ellipse class="n" cx="682" cy="1118" rx="370" ry="128" style="stroke-width:3"/><ellipse class="w" cx="682" cy="1118" rx="370" ry="128" style="stroke-width:1"/>
<!-- 98 bearing -->
<path class="p" d="M595,860V930A125,45 0 0 0 845,930V860Z"/>
<ellipse class="p" cx="720" cy="860" rx="125" ry="45" style="stroke-width:2.2"/><ellipse class="n" cx="720" cy="860" rx="100" ry="34"/><ellipse class="n" cx="720" cy="860" rx="75" ry="25" style="stroke-width:2"/><ellipse class="n" cx="720" cy="862" rx="50" ry="15"/>
<!-- 97 nut -->
<path class="p" d="M630,685L680,670L775,670L805,690L805,745L760,770L670,765L635,740Z"/>
<path class="n" d="M630,685L670,712L760,715L805,690M670,712V765M760,715V770"/>
<ellipse class="n" cx="720" cy="690" rx="58" ry="20" style="stroke-width:1.8"/><ellipse class="n" cx="722" cy="693" rx="42" ry="13"/>
<!-- 96 washer -->
<path class="p" d="M546,500V530A182,62 0 0 0 910,530V500Z"/>
<ellipse class="p" cx="728" cy="500" rx="182" ry="62"/>
<path class="n" d="M690,485H780Q800,500 785,520H680Q655,510 690,485ZM700,495L690,520M720,510H760"/>
<!-- 95 disc -->
<path class="p" d="M387,245V295A335,125 0 0 0 1057,295V245Z"/>
<ellipse class="p" cx="722" cy="245" rx="335" ry="125"/>
<path class="n" d="M388,255A335,125 0 0 0 1056,255" style="stroke-width:1.8"/>
<ellipse class="n" cx="720" cy="236" rx="245" ry="86"/><ellipse class="n" cx="720" cy="242" rx="225" ry="76"/>
<ellipse class="n" cx="725" cy="245" rx="112" ry="38"/><ellipse class="n" cx="725" cy="248" rx="85" ry="28" style="stroke-width:1.8"/><ellipse class="n" cx="725" cy="250" rx="65" ry="19"/>
<!-- heads of 103 -->
<rect class="k" x="737" y="0" width="36" height="55" fill="#555"/><ellipse class="p" cx="755" cy="68" rx="40" ry="15"/>
<rect class="k" x="1152" y="0" width="36" height="75" fill="#555"/><ellipse class="p" cx="1170" cy="88" rx="40" ry="15"/>
<path class="t" d="M728,80V130M728,235V450M728,490V680M728,790V850M728,1215V1500"/>
</g>

</g>
<g id="c01_housing85">
<g transform="translate(1860,580) scale(0.20704)">
<path class="t" d="M1770,455L1680,495M340,1135L275,1160M215,1190L0,1290"/>
<!-- housing 85 -->
<path class="p" style="stroke:none" d="M130,1080L140,965L180,895L235,868L300,835L480,715L620,665L740,640L745,600L780,560L850,525L960,520L975,530L1040,555L1100,590L1140,650L1170,740L1190,820L1230,830L1270,870L1280,920L1265,1010L1240,1050L1170,1085L1080,1095L1000,1075L960,1100L930,1200L880,1300L800,1370L660,1440L640,1470L620,1530L590,1550L520,1540L380,1545L250,1495L175,1465L140,1400L155,1340L130,1250Z"/>
<path class="n" d="M300,832L480,715L620,665L735,640M1080,1095L1000,1075Q965,1090 948,1110Q900,1290 816,1350L645,1465"/>
</g>

</g>
<g id="c02_housing85_front">
<g transform="translate(1870,740) scale(0.12422)">
<path class="p" d="M160,360Q200,210 290,150Q400,100 555,140Q800,200 900,420Q980,620 990,850Q1000,1050 960,1150L950,1200Q945,1260 900,1290Q800,1320 640,1310Q420,1280 290,1160Q200,1130 155,1070Q150,1030 190,1000Q150,930 140,840Q110,600 160,360Z"/>
<!-- side body -->
<path class="n" d="M970,520L1350,380M1340,490L1380,540L1160,960L990,1050M1350,380Q1420,420 1450,480L1540,500M1440,490L1300,900L990,1100M1350,380L1330,260Q1200,100 935,20M1500,560L1320,930M1290,940Q1380,860 1430,770"/>
<path class="n" style="stroke-width:2" d="M985,630L1340,490"/>
<circle class="k" cx="1048" cy="1052" r="3"/>
<!-- inner rim -->
<path class="n" d="M215,370Q240,260 300,230Q400,210 560,240Q700,280 790,380M215,370Q180,600 195,850Q200,920 220,965Q250,940 270,965L360,1100M185,480Q175,700 190,900"/>
<path class="n" d="M580,160Q790,215 880,430Q955,620 965,850Q975,1040 945,1140M555,140L572,700L540,1290"/>
<!-- inner ring -->
<path class="n" d="M840,350Q640,450 560,700Q490,900 560,1020Q640,1100 740,1060M860,420Q700,500 620,700Q560,880 620,980Q680,1050 760,1020M900,900Q860,1000 720,1060M610,640Q560,800 640,950M915,760V900L895,920V1010"/>
<circle class="n" cx="565" cy="770" r="16"/><circle class="n" cx="572" cy="772" r="8"/>
<!-- window -->
<path class="n" d="M230,330Q280,240 360,235Q410,250 400,330Q370,470 290,520Q230,540 215,490Q205,420 230,330ZM250,335Q290,262 355,258Q385,268 378,330Q352,450 285,495M225,340L222,450"/>
<path class="n" d="M190,520Q200,580 260,590Q340,570 400,470M185,550Q200,610 265,615"/>
<!-- struts -->
<path class="n" d="M410,360L590,280M420,390L600,300M560,330L420,640L390,780L215,860M580,340L460,650L440,800L220,890M380,650L480,600M215,735L270,705M440,800L470,900L300,980M460,650L560,430"/>
<path class="n" d="M580,560Q700,480 850,430M610,620Q720,580 900,570M640,420Q720,380 840,350M620,600L760,440M560,700Q600,560 700,460"/>
<circle class="n" cx="328" cy="885" r="17"/><circle class="k" cx="335" cy="888" r="6"/>
<!-- bottom rails -->
<path class="n" d="M360,1020L640,1080L900,1110M260,1100L560,1180L900,1240M640,1080L620,1150L900,1230M560,1180L545,1290M360,1020Q350,1050 380,1060L630,1110M240,1010L330,1110L370,1100M200,1010Q170,1050 230,1100Q330,1150 420,1210L560,1250M590,1200L880,1270M660,1080Q700,1060 740,1075L900,1040L910,1000"/>
<path class="n" style="stroke-width:2" d="M190,1000Q175,1060 250,1110L330,1140M870,1250L930,1265Q950,1200 940,1160"/>
<path class="n" d="M940,1160Q980,1140 990,1170L1000,1150M960,1150L1290,940"/>
<!-- top -->
<path class="n" d="M330,130L580,0M165,350Q230,180 360,125"/>
<path class="n" style="stroke-width:2" d="M590,130L870,0"/>
<path class="n" d="M600,150L880,20M560,140Q900,20 1150,30"/>
<ellipse class="n" cx="825" cy="235" rx="95" ry="42" transform="rotate(38 825 235)"/>
<path class="t" d="M0,830L270,705M580,550L1350,380"/>
</g>

</g>
<g id="c03_housing85_rear">
<g transform="translate(2000,580) scale(0.12422)">
<!-- shoe post -->
<path class="p" d="M740,1010L1130,765L1250,690L1300,705L1295,730L1215,770L1350,830Q1400,790 1500,790L1530,870L1460,920L830,1225L800,1150Z"/>
<path class="n" d="M760,1030L1150,790M790,1060L1200,800L1215,770M850,1060L1340,830M880,1140L1350,910M1350,830Q1330,870 1350,910L1460,920M1130,765L1150,790L1200,760L1185,745M1400,800V900M1450,795V905M1500,790V880M1350,870H1520"/>
<path class="n" style="stroke-width:2" d="M745,1012L1248,692"/>
<ellipse class="n" cx="862" cy="1085" rx="22" ry="42" transform="rotate(-20 862 1085)"/>
<path class="n" d="M1000,1085L1020,1068L1030,1080L1050,1052L1060,1064L1080,1037L1090,1050L1110,1022L1120,1034L1140,1007L1150,1020L1170,992L1180,1004L1200,985"/>
<path class="k" d="M965,930L995,915L1000,930L970,945ZM1005,910L1035,895L1040,910L1010,925ZM1045,890L1075,875L1080,890L1050,905ZM1085,870L1115,855L1120,870L1090,885ZM1125,850L1155,835L1160,850L1130,865ZM1165,830L1200,812L1205,828L1170,845Z"/>
<path class="n" d="M890,1000L915,985L905,970ZM880,965L940,960L945,985"/>
<!-- shoe fork -->
<path class="p" d="M1120,800L1140,690L1200,330L1205,180Q1215,150 1300,120Q1360,115 1370,160L1360,560Q1365,650 1430,665Q1495,660 1505,600L1500,220Q1510,185 1570,175L1665,270L1670,1010L1650,1040L1600,1060L1290,960L1290,945L1440,890L1530,870L1500,790Q1400,790 1350,830L1215,770L1295,730L1300,705L1250,690L1130,765Z"/>
<path class="n" d="M1240,210Q1245,185 1300,165Q1335,160 1340,190L1330,580Q1340,690 1430,700Q1520,690 1535,610L1530,240Q1535,215 1565,215L1635,290L1570,770L1540,830L1560,1040M1240,210L1245,690M1225,200L1230,360L1150,740M1635,290L1665,270M1570,770L1520,790M1600,1060L1590,1010L1290,945M1590,1010L1640,990L1670,1010M1640,990L1650,300"/>
<ellipse class="n" cx="1615" cy="855" rx="24" ry="40" transform="rotate(15 1615 855)"/><ellipse class="n" cx="1612" cy="855" rx="14" ry="28" transform="rotate(15 1612 855)"/>
<path class="t" d="M1660,810L1820,740"/>
<!-- vents / top -->
<path class="n" style="stroke-width:2" d="M-456,1418L410,920"/>
<path class="n" d="M-446,1438L420,940M-327,1192L-170,1260M-290,1172L-130,1235M-94,1108L30,1150M-50,1092L75,1130M-486,1428Q-146,1308 103,1318M-111,1308Q153,1388 283,1548"/>
<path class="n" style="stroke-width:1.8" d="M290,1480Q420,1440 540,1330Q570,1280 560,1230Q520,1100 440,1030M190,1110Q380,1130 470,1330M240,1085Q420,1110 500,1300M300,1062Q460,1090 540,1270M0,1230Q200,1230 300,1400M-120,1290Q100,1300 250,1480"/>
<path class="n" d="M330,1440Q430,1400 520,1310Q540,1270 535,1240M360,1040Q500,1080 555,1230M160,1130Q350,1150 440,1350M60,1200Q250,1210 340,1390M-60,1250Q150,1260 270,1440M100,1060L330,960M250,1480L290,1480L300,1540Q500,1500 700,1380M120,1160Q200,1140 260,1170Q340,1230 330,1290Q260,1230 130,1180Z"/>
<!-- neck ring -->
<path class="n" d="M95,1060Q110,960 200,900Q300,850 440,855L500,880L440,900Q560,900 660,960Q730,1010 770,1120L820,1330Q830,1400 870,1410Q960,1420 995,1480Q1005,1540 990,1620Q985,1700 940,1750Q880,1800 673,1825L540,1792Q470,1830 453,1850"/>
<path class="n" d="M440,900L410,920L415,1000M500,880L470,900L420,990M200,900Q300,870 420,880M420,920Q530,920 600,1000Q660,1080 690,1200L700,1380Q720,1500 780,1560Q860,1580 940,1560L990,1500M770,1120Q700,1000 600,940M690,1400L780,1380L830,1400M850,1410L900,1440L930,1420L880,1400M940,1560Q960,1650 900,1771Q870,1800 823,1808M600,1000Q560,1100 610,1200L640,1400Q660,1560 760,1620Q840,1700 830,1771L810,1812"/>
<ellipse class="n" cx="495" cy="968" rx="8" ry="14"/>
<path class="n" d="M560,930Q640,940 700,1000Q730,1040 720,1070Q640,980 570,950Z"/>
<path class="n" d="M300,1540Q310,1650 330,1771Q340,1810 400,1850M0,1771L300,1640M600,1760L610,1815L540,1792"/>
<path class="n" style="stroke-width:2" d="M520,1771L720,1660"/>
</g>

</g>
<g id="d01_armature">
<g transform="translate(1260,920) scale(0.19669)">
<path class="t" d="M1600,290L1180,525M1150,540L1085,575M350,925L300,950M200,990L100,1040M60,1060L0,1090"/>
<g transform="rotate(-15 1830 220)"><ellipse class="p" cx="1830" cy="220" rx="70" ry="88"/><ellipse class="n" cx="1830" cy="222" rx="33" ry="43"/></g>
<g transform="rotate(-18 1690 290)"><path class="p" d="M1680,180H1730Q1790,200 1790,290Q1790,380 1730,400H1680Z"/><ellipse class="p" cx="1675" cy="290" rx="88" ry="110" style="stroke-width:2"/><ellipse class="n" cx="1678" cy="290" rx="76" ry="96"/><ellipse class="n" cx="1675" cy="292" rx="50" ry="63" style="stroke-width:2.4"/><ellipse class="n" cx="1678" cy="292" rx="34" ry="45"/><ellipse class="n" cx="1682" cy="292" rx="24" ry="33"/></g>
<path class="t" d="M1932,170L1690,295"/>
<path class="p" d="M1325,362Q1335,322 1375,332L1415,342Q1465,282 1545,297L1575,322L1605,382L1665,407Q1695,422 1680,457L1655,482L1565,532L1505,527L1455,502L1425,452L1355,412Q1320,392 1325,362Z"/>
<path class="p" d="M1310,350Q1320,310 1360,320L1400,330Q1450,270 1530,285L1560,310L1590,370L1650,395Q1680,410 1665,445L1640,470L1550,520L1490,515L1440,490L1410,440L1340,400Q1305,380 1310,350Z"/>
<path class="n" d="M1440,345Q1425,330 1440,318Q1500,300 1540,340L1545,375L1565,385Q1580,420 1555,445Q1500,500 1440,455Q1400,410 1410,375L1435,368Z"/>
<circle class="n" cx="1348" cy="355" r="11"/><circle class="n" cx="1630" cy="425" r="11"/>
<path class="t" d="M1600,290L1380,412"/>
<path class="k" d="M1115,398L1211,356L1199,328L1103,370Z"/><path class="p" d="M1082,422L1118,406L1099,362L1062,378Z"/><ellipse class="p" cx="1075" cy="400" rx="18" ry="25" transform="rotate(-18 1072 400)"/><ellipse class="n" cx="1075" cy="400" rx="9" ry="13" transform="rotate(-18 1072 400)"/>
<path class="k" d="M1351,603L1451,559L1439,531L1339,575Z"/><path class="p" d="M1318,627L1354,611L1335,567L1298,583Z"/><ellipse class="p" cx="1311" cy="605" rx="18" ry="25" transform="rotate(-18 1308 605)"/><ellipse class="n" cx="1311" cy="605" rx="9" ry="13" transform="rotate(-18 1308 605)"/>
<g transform="rotate(-18 235 975)"><ellipse class="p" cx="250" cy="970" rx="58" ry="78"/><ellipse class="p" cx="230" cy="975" rx="58" ry="78"/><ellipse class="n" cx="232" cy="977" rx="28" ry="38"/></g>
<g transform="rotate(-18 70 1060)"><path class="p" d="M70,992H105Q140,1010 140,1060Q140,1110 105,1128H70Z"/><ellipse class="p" cx="70" cy="1060" rx="52" ry="68" style="stroke-width:2.2"/><ellipse class="n" cx="72" cy="1060" rx="34" ry="46" style="stroke-width:2"/><ellipse class="n" cx="74" cy="1060" rx="18" ry="26"/></g>
</g>
</g>
<g id="d01b_armature">
<g transform="translate(1310,1000) scale(0.087991)"><g transform="translate(210,1140) rotate(-25.7)">
<path class="p" d="M1500,-57H1640A43,55 0 0 1 1640,53H1500A43,55 0 0 1 1500,-57Z"/>
<path class="n" d="M1600,-57A43,55 0 0 1 1600,53"/>
<path class="p" d="M1062,-535L1153,-641L1162,-535M1150,-525L1260,-611L1248,-505M1234,-494L1359,-558L1327,-456M1313,-445L1447,-484L1397,-390M1382,-379L1522,-392L1454,-309M1441,-299L1580,-284L1498,-216M1485,-206L1619,-166L1525,-114M1514,-106L1638,-41L1536,-8M1527,-2L1636,86L1530,99M1523,104L1613,211L1507,203M1502,206L1571,328L1467,300M1466,301L1509,434L1414,386M1415,385L1432,524L1347,459M1351,456L1341,596L1270,516M1276,511L1241,646L1186,554M1195,547L1134,673L1097,573"/>
<ellipse class="p" cx="1069" cy="15" rx="490" ry="585"/>
<ellipse class="p" cx="1123" cy="41" rx="265" ry="360" style="stroke-width:1.8"/>
<path class="n" style="stroke-width:1.5" d="M1298,41Q1335,87 1379,119M1297,72Q1329,124 1369,163M1292,103Q1319,160 1355,206M1285,133Q1306,193 1337,246M1275,161Q1290,224 1316,282M1262,187Q1271,252 1291,314M1247,211Q1249,276 1263,342M1230,231Q1225,296 1233,364M1210,249Q1199,312 1201,381M1190,263Q1173,323 1168,392M1168,273Q1145,329 1134,397M1146,279Q1117,331 1100,396M1123,281Q1089,327 1066,388M1100,279Q1061,319 1033,375M1078,273Q1035,306 1002,356M1056,263Q1010,288 972,332M1036,249Q987,266 946,303M1016,231Q967,240 922,269M999,211Q949,211 902,232M984,187Q934,179 885,191M971,161Q922,144 873,147M961,133Q914,108 865,102M954,103Q909,70 861,56M949,72Q908,33 862,9M948,41Q911,-5 867,-37M949,10Q917,-42 877,-81M954,-21Q927,-78 891,-124M961,-51Q940,-111 909,-164M971,-79Q956,-142 930,-200M984,-105Q975,-170 955,-232M999,-129Q997,-194 983,-260M1016,-149Q1021,-214 1013,-282M1036,-167Q1047,-230 1045,-299M1056,-181Q1073,-241 1078,-310M1078,-191Q1101,-247 1112,-315M1100,-197Q1129,-249 1146,-314M1123,-199Q1157,-245 1180,-306M1146,-197Q1185,-237 1213,-293M1168,-191Q1211,-224 1244,-274M1190,-181Q1236,-206 1274,-250M1210,-167Q1259,-184 1300,-221M1230,-149Q1279,-158 1324,-187M1247,-129Q1297,-129 1344,-150M1262,-105Q1312,-97 1361,-109M1275,-79Q1324,-62 1373,-65M1285,-51Q1332,-26 1381,-20M1292,-21Q1337,12 1385,26M1297,10Q1338,49 1384,73"/>
<ellipse class="p" cx="1123" cy="41" rx="172" ry="237" style="stroke-width:1.6"/>
<ellipse class="n" cx="1150" cy="45" rx="125" ry="165"/>
<ellipse class="n" cx="1156" cy="45" rx="105" ry="148" style="stroke-width:1.8"/>
<ellipse class="n" cx="1162" cy="45" rx="85" ry="125"/>
<path class="p" d="M600,-288H1010A232,298 0 0 1 1010,308H600A232,298 0 0 1 600,-288Z"/>
<path class="n" style="stroke-width:1.6" d="M600,-250H1112M600,-224H1112M600,-150H1186M600,-124H1186M600,-30H1217M600,-4H1217M600,95H1211M600,121H1211M600,215H1162M600,241H1162"/>
<path class="p" d="M434,-340H610A264,338 0 0 1 610,336H434A264,338 0 0 1 434,-340Z" style="stroke-width:1.6"/>
<path class="n" d="M475,332l13,-30M434,336l18,-30M393,332l23,-30M353,319l27,-29M314,299l32,-27M279,271l36,-24M248,237l39,-21M221,197l42,-18M199,151l45,-14M183,102l47,-9M174,51l48,-5M170,-2l48,-0M174,-55l48,5M183,-106l47,9M199,-155l45,14M221,-201l42,18M248,-241l39,21M279,-275l36,24M314,-303l32,27M353,-323l27,29M393,-336l23,30M434,-340l18,30M475,-336l13,30"/>
<path class="n" d="M651,-336l-38,8M691,-323l-38,8M730,-303l-38,7M765,-275l-38,6M796,-241l-38,6M823,-201l-38,5M845,-155l-38,4M861,-106l-38,2M870,-55l-38,1M874,-2l-38,-0M870,51l-38,-1M861,102l-38,-2M845,151l-38,-4M823,197l-38,-5M796,237l-38,-6M765,271l-38,-6M730,299l-38,-7M691,319l-38,-8M651,332l-38,-8"/>
<path class="p" d="M290,-243H360A199,255 0 0 1 360,267H290A199,255 0 0 1 290,-243Z"/>
<path class="n" d="M391,-208h70M434,-164h70M460,-120h70M477,-76h70M486,-32h70M489,12h70M486,56h70M477,100h70M460,144h70M434,188h70M391,232h70"/>
<path class="n" d="M360,-243A199,255 0 0 1 360,267"/>
<path class="p" d="M40,-213H300A176,225 0 0 1 300,237H40A176,225 0 0 1 40,-213Z"/>
<path class="n" style="stroke-width:1.5" d="M141,-172H391M179,-126H429M200,-80H450M212,-34H462M216,12H466M212,58H462M200,104H450M179,150H429M141,196H391"/>
<path class="n" d="M270,-213A175,225 0 0 1 270,237"/>
<ellipse class="p" cx="0" cy="0" rx="152" ry="216"/>
<path class="p" d="M-110,-58H-10A47,60 0 0 1 -10,62H-110A47,60 0 0 1 -110,-58Z"/>
<ellipse class="p" cx="-110" cy="2" rx="47" ry="60"/>
</g></g>
</g>
<g id="d02_field">
<g transform="translate(960,1080) scale(0.18634)">
<path class="t" d="M1932,130L1110,510M310,915L240,950M175,980L0,1060"/>
<!-- 68 washer -->
<g transform="rotate(-18 1865 170)"><ellipse class="p" cx="1880" cy="168" rx="68" ry="86"/><ellipse class="p" cx="1862" cy="172" rx="68" ry="86"/><ellipse class="n" cx="1864" cy="174" rx="34" ry="44"/><ellipse class="n" cx="1868" cy="174" rx="24" ry="32"/></g>
<!-- 67 bearing -->
<g transform="rotate(-18 1695 250)"><path class="p" d="M1695,178H1730Q1765,200 1765,250Q1765,300 1730,322H1695Z"/><ellipse class="p" cx="1693" cy="250" rx="58" ry="72" style="stroke-width:2.4"/><ellipse class="n" cx="1695" cy="250" rx="38" ry="50" style="stroke-width:2"/><ellipse class="n" cx="1697" cy="250" rx="20" ry="28"/></g>
<path class="n" d="M1680,240L1715,262M1690,270L1710,235"/>
<!-- 66 -->
<g transform="rotate(-18 1540 320)"><path class="p" d="M1540,225H1585Q1630,250 1630,320Q1630,390 1585,415H1540Z"/><ellipse class="p" cx="1538" cy="320" rx="75" ry="95"/><ellipse class="n" cx="1540" cy="322" rx="46" ry="60"/></g>
<path class="t" d="M1932,130L1540,318"/>
<!-- long screw -->
<path class="p" d="M1560,512L1715,440L1722,453L1566,526Z"/>
<path class="k" d="M1485,545L1560,510L1568,528L1492,563Z" fill="#555"/>
<ellipse class="p" cx="1730" cy="432" rx="22" ry="28" transform="rotate(-20 1730 432)"/><ellipse class="n" cx="1738" cy="428" rx="18" ry="24" transform="rotate(-20 1738 428)"/>
<!-- field 64 -->
<path class="p" d="M760,470Q800,330 900,290L1090,205Q1180,190 1250,215L1260,205L1245,195L1270,200L1280,225L1390,300Q1460,400 1440,520Q1400,600 1330,650L1130,790Q1000,830 900,760Q760,650 760,470Z"/>
<path class="n" d="M1390,300L1395,560L1330,650M1215,470L1395,390"/>
<g transform="rotate(-12 975 545)">
<ellipse class="n" cx="985" cy="545" rx="218" ry="262"/>
<ellipse class="n" cx="975" cy="548" rx="205" ry="250"/>
</g>
<path class="n" d="M780,440Q830,400 930,370L940,385Q850,410 800,455Q770,560 810,660Q850,700 915,690Q940,690 935,710Q850,720 790,670Q745,560 780,440ZM795,450Q765,560 800,650Q850,690 910,680"/>
<path class="n" d="M865,440Q900,400 960,385L1060,370Q1080,380 1050,400Q1030,470 1075,560Q1120,640 1090,700L1040,750L950,700Q880,640 865,540ZM880,450Q870,560 920,650Q950,685 1000,700"/>
<path class="n" d="M1050,400Q1080,380 1100,420Q1110,480 1150,540Q1190,640 1130,720L1060,750L1040,735M1075,430Q1080,490 1120,550Q1150,640 1100,710"/>
<path class="n" d="M935,700L1080,590M930,670L1085,600" style="stroke-width:1.8"/>
<path class="k" d="M960,330L1020,310L1030,330L965,355Z" fill="#666"/>
<path class="n" d="M930,345L1050,320M940,365L1040,335M1000,755L1040,770L1020,790M960,760L990,780"/>
<path class="t" d="M1110,510L700,730"/>
<!-- guard 63 -->
<path class="p" d="M215,560L260,520L420,480Q520,470 580,510L640,540L635,570L590,590L610,610L680,590L725,630L720,650L670,670Q700,760 690,900L660,1050L720,1040L715,1060L640,1110L600,1135Q480,1170 380,1130L250,1040L210,990Q170,880 180,760Q190,640 215,560Z"/>
<g transform="rotate(-10 440 820)">
<ellipse class="n" cx="440" cy="820" rx="255" ry="318"/>
<ellipse class="n" cx="435" cy="822" rx="240" ry="300"/>
<ellipse class="n" cx="430" cy="825" rx="228" ry="288"/>
<ellipse class="n" cx="425" cy="830" rx="155" ry="188"/>
</g>
<path class="n" d="M580,570L600,600L690,640M215,560L275,530L285,520M620,1090L640,1080L700,1045M240,990L250,1040"/>
<path class="t" d="M560,800L390,880"/>
</g>

</g>
<g id="e01_housing62">
<g transform="translate(770,1190) scale(0.14493)">
<path class="t" d="M0,1235L330,1080M1300,610L1550,490"/>
<!-- envelope -->
<path class="p" d="M60,1080L85,900L130,780L175,700L235,650L300,560L400,490L545,430Q640,215 830,180Q1080,170 1260,450Q1345,650 1320,950L1290,1075Q1325,1120 1285,1175Q1180,1245 1000,1250L700,1365L560,1395L500,1400L495,1440Q360,1500 220,1440L215,1310L170,1290L100,1200Z" style="stroke-width:.9"/>
<path class="n" d="M950,200Q900,260 850,330Q780,430 720,440" style="stroke-width:.9"/>
<!-- ribs -->
<path class="n" d="M545,430Q700,400 790,540Q860,650 880,770M600,445Q760,420 840,560Q900,660 915,760M660,440Q810,430 880,570Q935,660 950,745M720,440Q860,445 925,580Q970,660 985,725M400,490Q600,430 720,560L770,640"/>
<path class="n" d="M300,560Q520,470 680,600Q760,700 770,800M330,545Q540,460 700,590Q790,690 790,790" style="stroke-width:1.9"/>
<path class="n" d="M235,650Q300,590 420,570M175,700Q200,660 260,640"/>
<!-- frame/side panel -->
<path class="n" d="M770,800L1080,650L1190,670L1200,700L1195,1090L1000,1250M1080,650L1090,680L800,830M790,790L760,840L700,1300L660,1320M770,800Q740,830 730,900L660,1290"/>
<path class="n" d="M800,880L1090,790Q1130,800 1120,850L1080,1070L790,1200Q760,1180 770,1120Z" style="stroke-width:1.6"/>
<path class="n" d="M820,900L1080,820L1060,1050L810,1170ZM1120,850L1190,830M1080,1070L1190,1030"/>
<path class="n" d="M1230,600L1265,590L1300,1000L1260,1020ZM1245,600L1280,1010"/>
<path class="n" d="M700,1300L1000,1160L1195,1090M660,1320L760,1290L900,1220M640,1300Q720,1320 780,1260L700,1290M830,1280Q900,1250 950,1190M600,1340L700,1365"/>
<path class="n" d="M1000,1250Q1180,1230 1280,1150"/>
<!-- cage -->
<path class="p" d="M240,650V800Q370,860 500,800V650Z"/>
<ellipse class="p" cx="370" cy="650" rx="130" ry="45"/><ellipse class="n" cx="370" cy="655" rx="115" ry="36"/>
<path class="n" d="M500,700L540,690L545,710L505,720M510,640L560,620L600,640L590,700M500,800L520,960M560,800L580,940L640,920L620,790M600,800L610,900"/>
<path class="n" d="M130,780L200,770L240,800M110,900L170,960L230,820M170,700L200,770M85,900L110,900L100,1200M130,1100L160,1180L215,1310M250,830L300,850L330,990M300,850L400,830L420,860L390,1000"/>
<path class="k" d="M200,790L225,795L205,850L185,840ZM340,840L380,835L375,900L345,905ZM180,1270L215,1280L205,1320L175,1310ZM340,1290L375,1290L372,1350L342,1350Z" fill="#444"/>
<path class="n" d="M390,1030L680,1000Q690,1100 650,1160L400,1170ZM400,1060L670,1030M410,1140L650,1130M420,860L700,800M430,900L690,840M400,1170L420,1290L560,1395M440,1220Q520,1180 560,1250L600,1340M450,1300L540,1290L545,1330L460,1340Z"/>
<path class="n" d="M270,1250H330V1310H270ZM285,1265H320V1300"/>
<g transform="rotate(-12 255 1100)"><ellipse class="p" cx="255" cy="1100" rx="102" ry="128" style="stroke-width:1.6"/><ellipse class="n" cx="262" cy="1100" rx="88" ry="112"/></g>
<path class="n" d="M345,1020Q380,1100 340,1190"/>
<path class="p" d="M220,1330V1440A138,45 0 0 0 495,1440V1400L470,1395V1350L400,1360V1320Z"/>
<path class="t" d="M0,1235L260,1110"/>
<!-- lower holder -->
<path class="p" d="M245,1775V1870A110,38 0 0 0 465,1870V1775Z"/>
<path class="p" d="M255,1650V1775A105,35 0 0 0 465,1775V1650Z"/>
<ellipse class="p" cx="360" cy="1650" rx="105" ry="35"/>
<path class="p" d="M310,1560L330,1535L410,1540L420,1570V1640L395,1660H320L310,1640Z"/>
<path class="n" d="M310,1560L395,1580L420,1570M395,1580V1660M325,1600H360V1640M265,1585L300,1575L305,1610"/>
</g>

</g>
<g id="e01b_cage">
<g transform="translate(775,1265) scale(0.072464)">
<path class="p" style="stroke:none" d="M50,1140Q80,800 230,470Q300,300 520,170L980,110Q1350,250 1440,620Q1500,900 1380,1450L1250,1560L910,1700V1810A270,80 0 0 1 370,1810V1560L240,1480L110,1330Z"/>
<!-- rim -->
<path class="n" d="M50,1140Q80,800 230,470Q300,300 520,170M130,1120Q150,850 290,520Q330,400 400,340M50,1140L110,1330L240,1480L370,1560M130,1120L170,1270L260,1400M230,470L300,520M150,760L130,1120"/>
<path class="n" style="stroke-width:2.6" d="M980,110Q1350,250 1440,620Q1500,900 1380,1450"/>
<path class="n" d="M1040,230Q1300,380 1370,620Q1400,900 1290,1400M520,170Q760,60 980,110M650,100L980,150M1370,620L1330,640L1250,1300L1180,1420M1440,620L1480,600"/>
<!-- top cylinder -->
<path class="p" d="M395,250V540Q660,700 935,560V250Z"/>
<ellipse class="p" cx="662" cy="250" rx="270" ry="86"/><ellipse class="n" cx="665" cy="256" rx="215" ry="64" style="stroke-width:1.6"/>
<path class="t" d="M660,60V240"/>
<path class="n" d="M900,360L1000,320L1010,350L915,395ZM300,520L390,420M310,680L395,560"/>
<!-- struts -->
<path class="p" d="M150,760L310,680L350,860L240,960Z"/>
<path class="p" d="M580,640L740,625L800,680L720,990L660,1010L600,940Z"/>
<path class="n" d="M340,860L470,800L560,830L600,940M240,960L300,920M620,650L640,940M700,640L690,960M160,800L250,950"/>
<!-- right field pole -->
<path class="p" d="M700,1030L1280,990Q1290,1150 1230,1300L700,1300Z"/>
<path class="n" d="M700,1060L1275,1020M700,1270L1240,1265M720,1300Q760,1340 740,1400"/>
<!-- brush holder -->
<path class="n" d="M940,560L960,960M1000,600L1080,560L1130,800L1060,840ZM760,800L960,700M770,830L960,730M1060,570L1100,820M1180,600L1230,760L1130,800M1060,960L1250,860M1080,990L1260,890M940,760L1000,740L1010,860L960,890ZM1120,540V600"/>
<path class="n" d="M1100,250Q1180,230 1230,300Q1330,420 1300,480Q1200,450 1130,330Z"/>
<!-- ring -->
<g transform="rotate(-14 440 1130)"><ellipse class="p" cx="440" cy="1130" rx="222" ry="255" style="stroke-width:2"/><ellipse class="n" cx="450" cy="1130" rx="198" ry="228"/></g>
<path class="n" d="M620,960L700,1030M640,1300L700,1300M600,1330L680,1400"/>
<!-- lower -->
<path class="n" d="M760,1400Q900,1330 1020,1400L1050,1480M800,1480L1100,1560L1080,1620L790,1540ZM470,1400H640V1560H470ZM500,1400V1560M540,1400V1560M580,1400V1560M610,1400V1560M1180,1420L1130,1560L1250,1560"/>
<circle class="n" cx="960" cy="1540" r="14"/><circle class="n" cx="985" cy="1590" r="14"/>
<path class="p" d="M370,1560V1810A270,80 0 0 0 910,1810V1700L880,1690V1640L740,1700V1620L700,1600L400,1570Z"/>
<path class="n" style="stroke-width:2" d="M1250,1560Q1400,1480 1500,1500Q1420,1600 1250,1620ZM1180,1680Q1400,1640 1560,1540"/>
<path class="n" d="M1500,1500L1794,1360M1250,1620L1150,1640L910,1700M1560,1540L1680,1470"/>
<!-- springs (dark blobs) -->
<g class="k" style="fill:#333"><circle cx="350" cy="608" r="30"/><circle cx="322" cy="688" r="30"/><circle cx="652" cy="655" r="30"/><circle cx="662" cy="712" r="28"/><circle cx="640" cy="768" r="28"/><circle cx="312" cy="1492" r="28"/><circle cx="332" cy="1568" r="28"/><circle cx="482" cy="1640" r="30"/><circle cx="470" cy="1722" r="30"/><circle cx="640" cy="1580" r="28"/><circle cx="652" cy="1642" r="28"/></g>
<g fill="#fff"><circle cx="350" cy="608" r="9"/><circle cx="322" cy="688" r="9"/><circle cx="652" cy="655" r="9"/><circle cx="662" cy="712" r="8"/><circle cx="640" cy="768" r="8"/><circle cx="312" cy="1492" r="8"/><circle cx="332" cy="1568" r="8"/><circle cx="482" cy="1640" r="9"/><circle cx="470" cy="1722" r="9"/><circle cx="640" cy="1580" r="8"/><circle cx="652" cy="1642" r="8"/></g>
<path class="n" d="M330,720L300,1460M350,740L330,1480M640,800L630,940M660,800L655,940M630,1340L640,1560M660,1340L665,1560"/>
<path class="t" d="M0,1380L560,1110"/>
</g>

</g>
<g id="e02_p41_43">
<g transform="translate(760,1040) scale(0.16563)">
<path class="t" d="M380,265V1470"/>
<!-- 41 -->
<path class="p" d="M303,185V240A75,32 0 0 0 453,240V185Z"/><ellipse class="p" cx="378" cy="185" rx="75" ry="32"/><ellipse class="n" cx="378" cy="180" rx="14" ry="5" transform="rotate(20 378 180)"/>
<!-- 42 -->
<path class="p" d="M320,385L345,365L440,365L455,380L440,400L345,405Z"/><ellipse class="n" cx="385" cy="380" rx="28" ry="12"/>
<path class="n" d="M365,405L372,445M395,405L390,445"/>
<path class="p" d="M345,450L400,470L435,455V580L395,600L345,580Z"/><path class="n" d="M345,450L385,440L435,455M400,470V600"/>
<path class="t" d="M380,405V450"/>
<!-- 43 -->
<path class="p" d="M290,965L330,950L440,960L440,1000L400,1012L300,990Z"/>
<path class="p" d="M300,870V950A80,28 0 0 0 460,950V870Z"/>
<path class="p" d="M283,750V840Q300,880 378,885Q460,880 473,840V750Z"/>
<ellipse class="p" cx="378" cy="750" rx="95" ry="40" style="stroke-width:1.8"/><ellipse class="n" cx="378" cy="752" rx="75" ry="30"/>
<path class="n" d="M283,800Q378,860 473,800M350,885V960"/>
<path class="t" d="M380,700V790"/>
</g>

</g>
<g id="f01_handle44">
<g transform="translate(540,1170) scale(0.14493)">
<path class="t" d="M1455,1435L1794,1265"/>
<path class="p" d="M240,380L700,130L760,125L850,155L1060,172L1090,185L1085,208L990,222L1000,290L930,310L870,290L840,330L850,480L800,520L770,760L830,800L850,850L900,900L970,880L1000,950L1040,985L1030,1010L1005,1050L840,1100L860,1150L830,1200L820,1290L730,1520L660,1600L560,1640L340,1640L320,1660L200,1640L90,1570L110,1400L130,1100L170,800L230,550Z"/>
<path class="n" d="M240,380Q290,410 340,400L760,165L850,155M340,400L330,450L240,440M240,410L330,420M700,130Q720,150 760,165L800,200L830,260L860,250"/>
<path class="n" d="M850,210Q900,180 1060,195L1085,208M860,240Q900,210 990,222M870,230L880,290M1000,290Q1010,250 990,240L930,250Q910,260 920,300Z"/>
<ellipse class="n" cx="985" cy="268" rx="12" ry="22"/>
<path class="n" style="stroke-width:3.3" d="M345,390L770,200L810,210L790,330Q840,340 845,400L800,500L765,800L765,1000L790,1060L700,1200L640,1400L580,1440L420,1450L370,1400L400,1100L440,900L460,870L520,850M345,390L330,450L300,620L250,860L200,1400L190,1600"/><path class="w" style="stroke-width:.9" d="M345,390L770,200L810,210L790,330Q840,340 845,400L800,500L765,800L765,1000L790,1060L700,1200L640,1400L580,1440L420,1450L370,1400L400,1100L440,900L460,870L520,850M345,390L330,450L300,620L250,860L200,1400L190,1600"/>
<path class="n" d="M360,440L440,400L470,520L460,800L520,850L440,900M440,400L780,350M480,420Q560,400 610,430L580,620L600,840L700,960L760,1000M610,430L780,470L800,500"/>
<path class="n" d="M615,518L725,558L722,600L612,560Z"/><path class="n" d="M640,550L700,570" style="stroke-width:1.8"/>
<path class="n" d="M617,608L727,648L724,690L614,650Z"/><path class="n" d="M640,640L700,660" style="stroke-width:1.8"/>
<path class="n" d="M619,698L729,738L726,780L616,740Z"/><path class="n" d="M640,730L700,750" style="stroke-width:1.8"/>
<path class="n" d="M621,788L731,828L728,870L618,830Z"/><path class="n" d="M640,820L700,840" style="stroke-width:1.8"/>
<path class="n" style="stroke-width:1.7" d="M150,810Q200,775 250,790M148,848Q198,813 247,828M146,886Q196,851 244,866M144,924Q194,889 241,904M142,962Q192,927 238,942M140,1000Q190,965 235,980M138,1038Q188,1003 232,1018M136,1076Q186,1041 229,1056M134,1114Q184,1079 226,1094M132,1152Q182,1117 223,1132M130,1190Q180,1155 220,1170M128,1228Q178,1193 217,1208M126,1266Q176,1231 214,1246M124,1304Q174,1269 211,1284M122,1342Q172,1307 208,1322"/>
<path class="n" d="M190,790Q240,740 270,790L230,1330M130,1100L110,1400"/>
<ellipse class="n" cx="410" cy="465" rx="14" ry="22"/><ellipse class="n" cx="410" cy="465" rx="6" ry="10"/>
<ellipse class="n" cx="720" cy="325" rx="14" ry="22"/><ellipse class="n" cx="720" cy="325" rx="6" ry="10"/>
<ellipse class="n" cx="400" cy="700" rx="14" ry="22"/><ellipse class="n" cx="400" cy="700" rx="6" ry="10"/>
<ellipse class="n" cx="380" cy="1135" rx="14" ry="22"/><ellipse class="n" cx="380" cy="1135" rx="6" ry="10"/>
<ellipse class="n" cx="840" cy="1135" rx="14" ry="22"/><ellipse class="n" cx="840" cy="1135" rx="6" ry="10"/>
<ellipse class="n" cx="245" cy="1450" rx="14" ry="22"/><ellipse class="n" cx="245" cy="1450" rx="6" ry="10"/>
<ellipse class="n" cx="410" cy="1545" rx="14" ry="22"/><ellipse class="n" cx="410" cy="1545" rx="6" ry="10"/>
<ellipse class="n" cx="645" cy="1545" rx="14" ry="22"/><ellipse class="n" cx="645" cy="1545" rx="6" ry="10"/>
<ellipse class="n" cx="320" cy="1500" rx="14" ry="22"/><ellipse class="n" cx="320" cy="1500" rx="6" ry="10"/>
<path class="n" d="M780,790L830,800M800,900Q880,940 900,900M800,1000Q900,960 1000,950M800,1040Q900,1000 1030,1010M840,1100L800,1090L790,1060"/>
<path class="p" d="M905,905L960,880Q990,900 985,940L935,960Q900,940 905,905Z"/><ellipse class="n" cx="965" cy="925" rx="14" ry="24"/><ellipse class="n" cx="965" cy="925" rx="6" ry="11"/>
<path class="n" d="M420,1450L400,1530L560,1560L660,1520L730,1520M200,1640L210,1560L330,1580L340,1640M560,1640L560,1560M470,1460L600,1470L680,1490M600,1470L590,1500L680,1520"/>
<path class="n" d="M290,1180H390V1420H290ZM300,1200H380V1300H300ZM340,1200V1420M300,1340H380M250,1110H330M280,1000H350"/>
<path class="n" d="M340,1000Q420,940 440,900M400,1100Q380,1250 370,1400M350,580L420,600M360,720L440,730L470,830M320,830L380,830"/>
<path class="n" d="M600,1000Q560,1200 420,1440" style="stroke-width:.8"/>
<g transform="rotate(-15 1180 530)"><ellipse class="p" cx="1180" cy="530" rx="105" ry="125"/><ellipse class="n" cx="1165" cy="538" rx="62" ry="82"/><ellipse class="n" cx="1172" cy="534" rx="85" ry="105"/></g>
<path class="p" d="M1300,720L1330,700L1500,750L1520,780L1540,950L1580,1040L1540,1110L1470,1165L1390,1150L1400,1080L1380,1040L1290,1060L1250,950L1265,820Z"/>
<path class="n" d="M1300,720L1320,760L1390,780L1470,760L1500,750M1390,780L1360,1040M1470,760L1490,1100L1470,1165M1490,1100L1540,1040L1500,800M1320,760L1290,880L1260,900M1290,880L1340,890L1320,1040M1420,790L1440,850"/>
<ellipse class="n" cx="1355" cy="745" rx="10" ry="15"/>
<ellipse class="n" cx="1320" cy="885" rx="10" ry="15"/>
<ellipse class="n" cx="1305" cy="1010" rx="10" ry="15"/>
<ellipse class="n" cx="1410" cy="825" rx="10" ry="15"/>
<path class="p" d="M1135,1075L1265,1100L1385,1120L1340,1385L1225,1370L1095,1345Z"/>
<path class="k" fill="#333" d="M1265,1100L1300,1106L1262,1376L1225,1370Z"/>
<path class="n" d="M1135,1075L1230,1055L1370,1080L1385,1120M1230,1055L1265,1100"/>
<path class="n" style="stroke-width:1.7" d="M1170,1130H1210M1180,1170H1200V1190H1180ZM1190,1220H1210V1250H1190ZM1140,1290H1160V1310M1160,1330Q1180,1345 1200,1335M1300,1160L1320,1180M1300,1230L1330,1260M1290,1300L1320,1320"/>
<circle class="p" cx="1258" cy="1140" r="13"/><circle class="p" cx="1232" cy="1335" r="13"/>
<path class="n" d="M1120,1360L1135,1530M1150,1365L1165,1530M1185,1370L1195,1530M1215,1372L1225,1530M1245,1378L1250,1530"/>
<path class="p" d="M1065,1515L1170,1545L1285,1520L1265,1680L1150,1700L1045,1670Z"/><path class="n" d="M1170,1545L1150,1700M1110,1528L1090,1682"/>
<path class="n" style="stroke-width:2" d="M612,480Q577,583 571,755L583,869L700,960"/>
<path class="n" d="M703,126Q730,150 770,150L1060,172M770,150L800,190M857,258L900,240M700,330L760,345M412,463L440,470M332,400L263,812L215,1330M300,338L332,400"/>
<path class="n" style="stroke-width:1.6" d="M783,183L857,258"/>
<path class="n" d="M235,389Q240,350 303,338L703,126M240,430L330,445M360,560L450,575M380,640L440,650"/>
</g>
</g>
<g id="f02_handle53">
<g transform="translate(930,1290) scale(0.12422)">
<path class="p" d="M300,440Q310,400 420,360L850,150L1060,190L1100,140Q1300,150 1420,280L1465,390L1470,900L1440,985L1490,990Q1480,1040 1400,1090L1180,1190L1100,1300L920,1760Q880,1840 800,1860L420,1880L380,1890L150,1830L135,1700L150,1400L210,950L300,560Z"/>
<path class="n" d="M300,440Q430,490 580,420L1130,170M310,470Q430,520 590,450L800,355M580,420L600,450M605,450L800,355L800,395L600,490ZM1060,190Q1180,160 1200,170L1100,140M1180,165Q1380,250 1400,380L1465,390M1340,310L1400,380M1100,140L1120,175"/>
<path class="n" style="stroke-width:1.7" d="M620,455L665,433L667,462L622,484ZM685,423L730,401L732,430L687,452ZM750,391L790,372L792,400L752,420ZM600,490L800,395"/>
<circle class="p" cx="520" cy="515" r="32"/><ellipse class="p" cx="918" cy="350" rx="25" ry="36"/>
<path class="n" d="M490,540L470,620L440,800L500,960L480,1300L400,1560L430,1600M560,520L540,620L500,760L560,930L540,1300L450,1590M300,560L310,600Q400,620 470,620M560,610Q600,630 640,600L640,900L590,930"/>
<path class="n" style="stroke-width:1.6" d="M490,770L530,740L550,810L510,840ZM520,880L550,860L560,920L530,940ZM500,640L530,620L520,720L490,740ZM470,1250L500,1240L490,1330L460,1340Z"/>
<path class="n" d="M235,840Q330,850 410,940Q440,1000 420,1100L380,1450Q350,1500 300,1500L150,1490M150,1540L390,1560L430,1600"/>
<path class="n" style="stroke-width:1.5" d="M215,930Q310,880 405,923M220,945Q310,897 402,937M210,972Q306,922 402,965M215,987Q306,939 399,979M205,1014Q302,964 399,1007M210,1029Q302,981 396,1021M200,1056Q298,1006 396,1049M205,1071Q298,1023 393,1063M195,1098Q294,1048 393,1091M200,1113Q294,1065 390,1105M190,1140Q290,1090 390,1133M195,1155Q290,1107 387,1147M185,1182Q286,1132 387,1175M190,1197Q286,1149 384,1189M180,1224Q282,1174 384,1217M185,1239Q282,1191 381,1231M175,1266Q278,1216 381,1259M180,1281Q278,1233 378,1273M170,1308Q274,1258 378,1301M175,1323Q274,1275 375,1315M165,1350Q270,1300 375,1343M170,1365Q270,1317 372,1357M160,1392Q266,1342 372,1385M165,1407Q266,1359 369,1399M155,1434Q262,1384 369,1427M160,1449Q262,1401 366,1441M150,1476Q258,1426 366,1469M155,1491Q258,1443 363,1483"/>
<path class="n" d="M880,450Q1000,330 1130,340Q1160,380 1150,450M950,380Q1050,350 1120,360M1180,420Q1230,340 1340,310M860,470L840,560L810,1000Q1000,1060 1330,990M860,470Q1100,560 1440,470M840,560Q1000,600 1150,625L1180,640L1060,1010M1270,340Q1340,420 1360,500"/>
<path class="n" style="stroke-width:1.6" d="M895,630L1150,650Q1170,660 1160,690L1040,1000"/>
<path class="n" style="stroke-width:1.8" d="M892,642L1138,672L1116,730L886,694Z"/><path class="n" d="M922,660L1108,682"/>
<path class="n" style="stroke-width:1.8" d="M882,732L1108,762L1086,820L876,784Z"/><path class="n" d="M912,750L1078,772"/>
<path class="n" style="stroke-width:1.8" d="M872,822L1078,852L1056,910L866,874Z"/><path class="n" d="M902,840L1048,862"/>
<path class="n" style="stroke-width:1.8" d="M866,906L1050,936L1028,994L860,958Z"/><path class="n" d="M896,924L1020,946"/>
<path class="n" style="stroke-width:1.6" d="M1240,570L1290,560L1190,990L1120,1000Z"/><path class="n" d="M1258,570L1145,1000M1274,566L1165,996"/>
<path class="n" style="stroke-width:1.6" d="M1320,545L1370,535L1290,975L1230,985Z"/><path class="n" d="M1338,545L1255,985M1354,541L1275,981"/>
<path class="n" style="stroke-width:1.6" d="M1400,525L1440,515L1380,960L1330,965Z"/><path class="n" d="M1418,525L1355,965M1434,521L1375,961"/>
<path class="n" d="M810,1000L800,1130Q950,1160 1090,1130L1180,1190M820,1040Q1000,1090 1340,1020L1440,985M1340,1020L1460,985M1350,1040L1400,1030M1330,990L1340,1020M800,1130L790,1200L640,1580L470,1600M1090,1130L1100,1300"/>
<path class="n" style="stroke-width:2" d="M1370,1090L1410,1065"/>
<ellipse class="n" cx="1090" cy="1320" rx="25" ry="45"/><ellipse class="n" cx="290" cy="1650" rx="60" ry="40" transform="rotate(-15 290 1650)"/><ellipse class="n" cx="275" cy="1655" rx="38" ry="30" transform="rotate(-15 275 1655)"/><ellipse class="n" cx="550" cy="1790" rx="22" ry="38"/><ellipse class="n" cx="845" cy="1795" rx="22" ry="38"/>
<path class="n" style="stroke-width:1.6" d="M610,1712L580,1850M627,1711L597,1848M644,1710L614,1846M661,1709L631,1844M678,1708L648,1842M695,1707L665,1840M712,1706L682,1838M729,1705L699,1836M746,1704L716,1834M763,1703L733,1832M780,1702L750,1830M797,1701L767,1828M814,1700L784,1826"/>
<path class="n" d="M135,1700L400,1640L470,1600Q500,1640 490,1690L440,1720M400,1640L420,1880M150,1830L400,1860"/>
<path class="n" style="stroke-width:.8" d="M640,600L660,520L680,500M640,1580Q560,1560 540,1500M790,1200Q700,1300 640,1580"/>
</g>
<g transform="translate(930,1290) scale(0.18634)">
<path class="n" style="stroke-width:2.4" d="M1120,420L1196,456"/><path class="n" style="stroke-width:1.5" d="M1120,420L1258,485"/><circle class="p" cx="1263" cy="488" r="11"/><path class="n" style="stroke-width:2.4" d="M1120,710L1196,743"/><path class="n" style="stroke-width:1.5" d="M1120,710L1258,770"/><circle class="p" cx="1263" cy="773" r="11"/><path class="n" style="stroke-width:2.4" d="M935,940L993,969"/><path class="n" style="stroke-width:1.5" d="M935,940L1040,992"/><circle class="p" cx="1045" cy="995" r="11"/><path class="n" style="stroke-width:2.4" d="M630,1240L689,1268"/><path class="n" style="stroke-width:1.5" d="M630,1240L738,1290"/><circle class="p" cx="743" cy="1293" r="11"/>
<path class="p" d="M1130,1005L1420,1065L1520,1160L1470,1395L1395,1425L1255,1445L1220,1400L1245,1320L1050,1250Z"/>
<path class="n" d="M1420,1065L1375,1100L1340,1320L1245,1320M1130,1005L1375,1100M1340,1320L1395,1425M1075,1235L1330,1295M1340,1330L1250,1345L1225,1400M1380,1380L1255,1420"/>
<path class="n" d="M1160,1045L1290,1060Q1380,1090 1370,1140L1150,1100ZM1180,1060L1200,1090M1110,1160L1240,1175Q1330,1205 1320,1252L1100,1215Z"/>
<ellipse class="n" cx="1178" cy="1078" rx="12" ry="20"/><ellipse class="n" cx="1132" cy="1195" rx="12" ry="20"/>
<path class="n" d="M1415,1175L1480,1200L1465,1290L1400,1262ZM1430,1190L1440,1275"/>
<path class="p" d="M1665,1190L1690,1180L1790,1215L1800,1260L1790,1300L1750,1330L1730,1325L1655,1255Z"/>
<path class="n" d="M1665,1190L1760,1225L1790,1215M1760,1225L1755,1300L1730,1325M1670,1250L1750,1310M1775,1260L1795,1270M1772,1280L1792,1290"/>
</g>
</g>
<g id="g01_hook">
<g transform="translate(340,1190) scale(0.20186)">

<!-- pin 61 -->
<rect class="p" x="520" y="95" width="20" height="165"/>
<!-- washer -->
<g transform="rotate(22 553 405)"><ellipse class="p" cx="553" cy="405" rx="112" ry="68"/><ellipse class="n" cx="553" cy="408" rx="60" ry="36"/></g>
<!-- bracket -->
<path class="p" d="M375,590L610,550L640,565L660,590L650,680L790,700L805,740L750,940L710,945L330,850L300,820L310,790Q320,690 375,590Z"/>
<path class="n" d="M375,590Q400,585 610,550M610,550L560,770L330,810L300,820M560,770L590,800L640,565M590,800L585,830M330,810Q345,700 385,600M440,840L500,810L580,830M500,810L510,870L700,920L710,945M650,680L640,790M790,700L745,760L700,920M745,760L805,740"/>
<ellipse class="n" cx="385" cy="845" rx="40" ry="19" transform="rotate(8 385 845)"/>
<ellipse class="n" cx="622" cy="620" rx="8" ry="13"/><ellipse class="n" cx="603" cy="690" rx="12" ry="18"/><ellipse class="n" cx="583" cy="745" rx="8" ry="13"/>
<ellipse class="n" cx="770" cy="770" rx="8" ry="13"/><ellipse class="n" cx="752" cy="830" rx="12" ry="18"/><ellipse class="n" cx="735" cy="880" rx="8" ry="13"/>
<path class="p" d="M660,625L745,640Q760,650 745,660L660,645Z"/><path class="p" d="M590,790L700,805Q715,815 700,822L590,808Z"/>
<!-- washer 58 -->
<g transform="rotate(22 378 1050)"><ellipse class="p" cx="378" cy="1050" rx="108" ry="70"/><ellipse class="n" cx="378" cy="1053" rx="58" ry="36" style="stroke-width:1.6"/></g>
<!-- hook 57 -->
<path class="p" d="M295,1210L135,1690Q125,1760 190,1790L610,1830Q690,1830 720,1760L900,1200Q880,1175 830,1185L660,1720Q640,1760 600,1760L215,1730Q195,1720 205,1690L365,1215Q340,1185 295,1210Z"/>
<path class="n" d="M135,1690Q170,1680 205,1690M190,1790Q180,1750 215,1730M610,1830Q580,1790 600,1760M720,1760Q690,1730 660,1720"/>
<ellipse class="n" cx="312" cy="1218" rx="12" ry="14"/><ellipse class="n" cx="812" cy="1222" rx="10" ry="18"/><ellipse class="n" cx="200" cy="1500" rx="10" ry="18"/>
<path class="p" d="M232,1490L265,1480Q285,1500 270,1525L240,1530Q225,1510 232,1490Z"/>
</g>

</g>
<g id="g02_cord">
<g transform="translate(400,1460) scale(0.19669)">
<!-- 47 -->
<path class="p" d="M1200,215L1280,230Q1300,265 1280,305L1200,288Q1178,250 1200,215Z"/>
<ellipse class="n" cx="1215" cy="247" rx="9" ry="15"/><ellipse class="n" cx="1272" cy="268" rx="8" ry="13"/>
<!-- 48 -->
<path class="k" d="M1400,318L1480,345L1474,362L1395,335Z"/>
<ellipse class="p" cx="1492" cy="340" rx="13" ry="24" transform="rotate(-15 1492 340)"/>
<path class="p" d="M1500,345L1540,358L1535,378L1496,365Z"/>
<ellipse class="p" cx="1550" cy="365" rx="17" ry="26" transform="rotate(-15 1550 365)"/>
<!-- cord 50 -->
<path class="p" d="M1225,850L1130,1270L1225,1300L1340,880Z"/>
<path class="p" d="M1215,822L1365,855L1365,880L1210,845Z"/>
<!-- cord 52 -->
<path class="p" d="M1135,1305L1125,1380Q1100,1480 800,1485V1580Q1170,1570 1205,1400L1220,1320Z"/>
<path class="p" d="M775,1485L440,1430Q410,1470 430,1520L775,1580Z"/>
<path class="n" d="M440,1430Q420,1470 445,1522"/>
<!-- boot -->
<path class="p" d="M185,1315L350,1288L365,1300L420,1370L480,1375L490,1395L480,1530L370,1545L355,1560L210,1565L190,1545Z"/>
<path class="n" d="M200,1325L345,1300L350,1288M200,1325L215,1550L340,1540L355,1560M345,1300L345,1320L240,1345L250,1520L330,1510L345,1540M240,1345L205,1325M250,1520L215,1550M345,1320L400,1395L335,1400L330,1510M335,1400L340,1540M400,1395L480,1375M340,1540L370,1545M335,1400L345,1385L420,1370"/>
</g>

</g>
<g id="g03_p49_56">
<g transform="translate(820,1440) scale(0.31056)">
<g transform="rotate(-15 185 152)"><ellipse class="p" cx="195" cy="150" rx="44" ry="46"/><ellipse class="p" cx="178" cy="156" rx="42" ry="44"/><ellipse class="n" cx="176" cy="160" rx="26" ry="28"/></g>
<path class="k" d="M1681,254L1727,268L1723,280L1677,265Z"/><ellipse class="p" cx="1743" cy="274" rx="10" ry="17" transform="rotate(-15 1743 274)"/><ellipse class="p" cx="1735" cy="272" rx="8" ry="15" transform="rotate(-15 1735 272)"/>
<path class="k" d="M1726,337L1772,351L1768,363L1722,348Z"/><ellipse class="p" cx="1788" cy="357" rx="10" ry="17" transform="rotate(-15 1788 357)"/><ellipse class="p" cx="1780" cy="355" rx="8" ry="15" transform="rotate(-15 1780 355)"/>
<path class="k" d="M1646,384L1692,398L1688,410L1642,395Z"/><ellipse class="p" cx="1708" cy="404" rx="10" ry="17" transform="rotate(-15 1708 404)"/><ellipse class="p" cx="1700" cy="402" rx="8" ry="15" transform="rotate(-15 1700 402)"/>
<path class="k" d="M1701,460L1747,474L1743,486L1697,471Z"/><ellipse class="p" cx="1763" cy="480" rx="10" ry="17" transform="rotate(-15 1763 480)"/><ellipse class="p" cx="1755" cy="478" rx="8" ry="15" transform="rotate(-15 1755 478)"/>
</g>
</g>
<g id="leaders">
<line class="ld" x1="984.0" y1="608.3" x2="983.6" y2="684.3"/>
<line class="ld" x1="929.0" y1="633.3" x2="928.8" y2="695.9"/>
<line class="ld" x1="881.3" y1="653.3" x2="882.2" y2="714.5"/>
<line class="ld" x1="845.7" y1="674.0" x2="845.4" y2="743.6"/>
<line class="ld" x1="804.7" y1="692.7" x2="812.4" y2="803.0"/>
<line class="ld" x1="771.3" y1="707.3" x2="771.1" y2="775.1"/>
<line class="ld" x1="731.3" y1="731.7" x2="748.3" y2="762.3"/>
<line class="ld" x1="700.7" y1="748.3" x2="706.4" y2="810.0"/>
<line class="ld" x1="666.7" y1="758.3" x2="666.8" y2="820.5"/>
<line class="ld" x1="622.7" y1="786.7" x2="625.8" y2="851.1"/>
<line class="ld" x1="586.0" y1="806.7" x2="587.0" y2="873.8"/>
<line class="ld" x1="545.7" y1="823.3" x2="546.1" y2="884.2"/>
<line class="ld" x1="510.0" y1="841.7" x2="510.6" y2="911.1"/>
<line class="ld" x1="455.7" y1="853.3" x2="377.7" y2="940.5"/>
<line class="ld" x1="454.0" y1="811.7" x2="345.2" y2="933.6"/>
<line class="ld" x1="453.3" y1="766.7" x2="310.8" y2="887.4"/>
<line class="ld" x1="451.7" y1="713.3" x2="322.7" y2="807.7"/>
<line class="ld" x1="450.7" y1="666.7" x2="353.3" y2="727.3"/>
<line class="ld" x1="450.0" y1="619.3" x2="334.3" y2="699.3"/>
<line class="ld" x1="450.0" y1="574.0" x2="372.7" y2="623.3"/>
<line class="ld" x1="448.3" y1="509.3" x2="197.3" y2="532.3"/>
<line class="ld" x1="145.7" y1="579.0" x2="182.3" y2="665.0"/>
<line class="ld" x1="110.0" y1="596.7" x2="159.3" y2="659.3"/>
<line class="ld" x1="75.0" y1="616.7" x2="87.3" y2="640.0"/>
<line class="ld" x1="115.0" y1="731.7" x2="179.0" y2="679.3"/>
<line class="ld" x1="193.3" y1="823.3" x2="243.9" y2="871.6"/>
<line class="ld" x1="141.7" y1="847.7" x2="190.8" y2="900.2"/>
<line class="ld" x1="190.0" y1="1025.0" x2="259.8" y2="1048.8"/>
<line class="ld" x1="138.0" y1="1055.0" x2="184.6" y2="1073.9"/>
<line class="ld" x1="88.3" y1="1087.3" x2="132.2" y2="1111.4"/>
<line class="ld" x1="448.3" y1="988.3" x2="371.4" y2="1013.5"/>
<line class="ld" x1="445.0" y1="1030.0" x2="377.1" y2="1046.5"/>
<line class="ld" x1="449.2" y1="1056.5" x2="383.9" y2="1072.7"/>
<line class="ld" x1="354.0" y1="1120.7" x2="354.4" y2="1158.9"/>
<line class="ld" x1="312.3" y1="1138.0" x2="312.9" y2="1173.1"/>
<line class="ld" x1="272.7" y1="1159.0" x2="273.4" y2="1194.6"/>
<line class="ld" x1="217.3" y1="1188.0" x2="218.4" y2="1220.2"/>
<line class="ld" x1="779.0" y1="1063.3" x2="810.5" y2="1074.8"/>
<line class="ld" x1="779.0" y1="1107.3" x2="817.1" y2="1122.8"/>
<line class="ld" x1="779.0" y1="1150.7" x2="808.0" y2="1162.6"/>
<line class="ld" x1="750.7" y1="1195.7" x2="659.6" y2="1242.5"/>
<line class="ld" x1="760.7" y1="1250.7" x2="732.8" y2="1271.4"/>
<line class="ld" x1="747.3" y1="1444.0" x2="711.7" y2="1409.1"/>
<line class="ld" x1="734.0" y1="1505.7" x2="654.7" y2="1508.2"/>
<line class="ld" x1="735.7" y1="1543.3" x2="707.8" y2="1538.7"/>
<line class="ld" x1="769.0" y1="1595.7" x2="875.9" y2="1508.3"/>
<line class="ld" x1="735.7" y1="1644.0" x2="666.5" y2="1628.2"/>
<line class="ld" x1="736.7" y1="1738.3" x2="639.0" y2="1729.5"/>
<line class="ld" x1="1230.7" y1="1330.7" x2="1161.1" y2="1373.9"/>
<line class="ld" x1="1237.3" y1="1422.3" x2="1121.9" y2="1467.0"/>
<line class="ld" x1="1235.7" y1="1477.3" x2="1174.1" y2="1507.1"/>
<line class="ld" x1="1270.7" y1="1570.7" x2="1349.5" y2="1585.3"/>
<line class="ld" x1="443.3" y1="1475.7" x2="375.3" y2="1514.0"/>
<line class="ld" x1="507.3" y1="1403.3" x2="420.7" y2="1409.0"/>
<line class="ld" x1="511.7" y1="1344.0" x2="494.4" y2="1349.5"/>
<line class="ld" x1="513.3" y1="1294.0" x2="479.3" y2="1315.2"/>
<line class="ld" x1="511.7" y1="1207.3" x2="450.0" y2="1220.3"/>
<line class="ld" x1="916.7" y1="1120.7" x2="936.4" y2="1255.3"/>
<line class="ld" x1="980.7" y1="1087.3" x2="1061.6" y2="1172.2"/>
<line class="ld" x1="1039.0" y1="1058.3" x2="1124.0" y2="1136.8"/>
<line class="ld" x1="1090.7" y1="1031.7" x2="1148.2" y2="1141.5"/>
<line class="ld" x1="1136.7" y1="1008.3" x2="1238.6" y2="1126.6"/>
<line class="ld" x1="1177.3" y1="990.0" x2="1271.2" y2="1114.5"/>
<line class="ld" x1="1230.4" y1="958.2" x2="1295.4" y2="1099.6"/>
<line class="ld" x1="1309.7" y1="925.0" x2="1407.5" y2="1055.7"/>
<line class="ld" x1="1369.7" y1="891.7" x2="1434.1" y2="1012.4"/>
<line class="ld" x1="1429.7" y1="865.0" x2="1521.6" y2="1027.2"/>
<line class="ld" x1="1488.0" y1="836.7" x2="1553.1" y2="979.0"/>
<line class="ld" x1="1528.7" y1="815.0" x2="1590.4" y2="955.4"/>
<line class="ld" x1="1571.3" y1="790.0" x2="1622.9" y2="949.5"/>
<line class="ld" x1="1611.3" y1="766.7" x2="1652.2" y2="938.7"/>
<line class="ld" x1="1908.3" y1="470.0" x2="1716.9" y2="565.6"/>
<line class="ld" x1="1906.7" y1="513.3" x2="1720.3" y2="591.8"/>
<line class="ld" x1="1906.7" y1="553.3" x2="1727.7" y2="614.7"/>
<line class="ld" x1="1906.7" y1="600.0" x2="1761.3" y2="671.2"/>
<line class="ld" x1="1906.7" y1="641.7" x2="1757.3" y2="720.3"/>
<line class="ld" x1="1908.3" y1="683.3" x2="1700.0" y2="811.2"/>
<line class="ld" x1="1818.0" y1="790.0" x2="1752.2" y2="827.1"/>
<line class="ld" x1="1818.0" y1="835.0" x2="1752.2" y2="864.1"/>
<line class="ld" x1="2263.3" y1="641.7" x2="2207.8" y2="661.8"/>
<line class="ld" x1="2263.3" y1="716.7" x2="2127.1" y2="765.3"/>
<line class="ld" x1="1818.0" y1="923.3" x2="1739.1" y2="961.9"/>
<line class="ld" x1="1894.7" y1="946.7" x2="1720.3" y2="1011.9"/>
<line class="ld" x1="1894.0" y1="993.0" x2="1733.3" y2="1059.6"/>
<line class="ld" x1="1897.0" y1="1043.0" x2="1727.5" y2="1108.1"/>
<line class="ld" x1="1894.7" y1="1092.3" x2="1721.7" y2="1152.3"/>
<line class="ld" x1="1896.3" y1="1139.0" x2="1795.7" y2="1198.0"/>
<line class="ld" x1="1896.3" y1="1267.3" x2="1828.1" y2="1301.3"/>
<line class="ld" x1="1894.7" y1="1329.0" x2="1819.3" y2="1363.3"/>
<line class="ld" x1="1894.0" y1="1365.7" x2="1795.7" y2="1391.8"/>
<line class="ld" x1="1854.7" y1="1448.3" x2="1739.1" y2="1462.0"/>
<line class="ld" x1="1854.7" y1="1490.7" x2="1733.3" y2="1491.4"/>
<line class="ld" x1="1854.7" y1="1530.7" x2="1718.8" y2="1523.3"/>
<line class="ld" x1="1854.7" y1="1574.0" x2="1717.4" y2="1548.3"/>
<line class="ld" x1="1856.3" y1="1615.7" x2="1750.7" y2="1586.7"/>
<line class="ld" x1="1858.0" y1="1662.3" x2="1758.0" y2="1632.3"/>
<line class="ld" x1="1510.7" y1="1235.7" x2="1534.1" y2="1246.2"/>
<line class="ld" x1="1506.3" y1="1297.3" x2="1615.7" y2="1358.3"/>
<line class="ld" x1="1512.0" y1="1397.3" x2="1704.2" y2="1411.4"/>
<line class="ld" x1="1475.3" y1="1465.7" x2="1253.3" y2="1514.5"/>
<g class="ar">
<polygon points="983.6,684.3 981.9,674.7 985.3,674.8"/>
<polygon points="928.8,695.9 927.1,686.4 930.5,686.4"/>
<polygon points="882.2,714.5 880.4,705.1 883.8,705.0"/>
<polygon points="845.4,743.6 843.8,734.1 847.2,734.2"/>
<polygon points="812.4,803.0 810.0,793.7 813.4,793.4"/>
<polygon points="771.1,775.1 769.5,765.6 772.9,765.6"/>
<polygon points="748.3,762.3 742.2,754.8 745.2,753.2"/>
<polygon points="706.4,810.0 703.8,800.7 707.2,800.4"/>
<polygon points="666.8,820.5 665.1,811.0 668.5,811.0"/>
<polygon points="625.8,851.1 623.6,841.6 627.0,841.5"/>
<polygon points="587.0,873.8 585.1,864.4 588.5,864.3"/>
<polygon points="546.1,884.2 544.3,874.7 547.7,874.7"/>
<polygon points="510.6,911.1 508.8,901.6 512.2,901.6"/>
<polygon points="377.7,940.5 382.7,932.3 385.3,934.5"/>
<polygon points="345.2,933.6 350.3,925.4 352.8,927.6"/>
<polygon points="310.8,887.4 316.9,879.9 319.1,882.5"/>
<polygon points="322.7,807.7 329.4,800.7 331.4,803.5"/>
<polygon points="353.3,727.3 360.5,720.8 362.3,723.7"/>
<polygon points="334.3,699.3 341.1,692.5 343.1,695.3"/>
<polygon points="372.7,623.3 379.8,616.8 381.6,619.6"/>
<polygon points="197.3,532.3 206.6,529.7 206.9,533.1"/>
<polygon points="182.3,665.0 177.0,656.9 180.1,655.6"/>
<polygon points="159.3,659.3 152.1,652.9 154.8,650.8"/>
<polygon points="87.3,640.0 81.4,632.4 84.4,630.8"/>
<polygon points="179.0,679.3 172.7,686.6 170.6,684.0"/>
<polygon points="243.9,871.6 235.9,866.3 238.2,863.8"/>
<polygon points="190.8,900.2 183.1,894.4 185.5,892.1"/>
<polygon points="259.8,1048.8 250.2,1047.4 251.3,1044.1"/>
<polygon points="184.6,1073.9 175.2,1071.9 176.4,1068.7"/>
<polygon points="132.2,1111.4 123.1,1108.4 124.7,1105.4"/>
<polygon points="371.4,1013.5 379.9,1008.9 380.9,1012.2"/>
<polygon points="377.1,1046.5 385.9,1042.6 386.7,1045.9"/>
<polygon points="383.9,1072.7 392.7,1068.8 393.5,1072.1"/>
<polygon points="354.4,1158.9 352.6,1149.5 356.0,1149.4"/>
<polygon points="312.9,1173.1 311.1,1163.6 314.5,1163.5"/>
<polygon points="273.4,1194.6 271.5,1185.1 274.9,1185.1"/>
<polygon points="218.4,1220.2 216.4,1210.7 219.8,1210.6"/>
<polygon points="810.5,1074.8 801.0,1073.1 802.2,1069.9"/>
<polygon points="817.1,1122.8 807.7,1120.8 809.0,1117.7"/>
<polygon points="808.0,1162.6 798.6,1160.5 799.9,1157.4"/>
<polygon points="659.6,1242.5 667.2,1236.6 668.8,1239.6"/>
<polygon points="732.8,1271.4 739.4,1264.4 741.4,1267.2"/>
<polygon points="711.7,1409.1 719.7,1414.6 717.3,1417.0"/>
<polygon points="654.7,1508.2 664.2,1506.2 664.3,1509.6"/>
<polygon points="707.8,1538.7 717.5,1538.6 716.9,1541.9"/>
<polygon points="875.9,1508.3 869.6,1515.7 867.5,1513.0"/>
<polygon points="666.5,1628.2 676.2,1628.6 675.4,1631.9"/>
<polygon points="639.0,1729.5 648.6,1728.6 648.3,1732.0"/>
<polygon points="1161.1,1373.9 1168.2,1367.4 1170.0,1370.3"/>
<polygon points="1121.9,1467.0 1130.2,1462.0 1131.4,1465.2"/>
<polygon points="1174.1,1507.1 1181.9,1501.4 1183.4,1504.5"/>
<polygon points="1349.5,1585.3 1339.9,1585.3 1340.5,1581.9"/>
<polygon points="375.3,1514.0 382.8,1507.8 384.4,1510.8"/>
<polygon points="420.7,1409.0 430.1,1406.7 430.3,1410.1"/>
<polygon points="494.4,1349.5 503.0,1345.0 504.0,1348.2"/>
<polygon points="479.3,1315.2 486.5,1308.7 488.3,1311.6"/>
<polygon points="450.0,1220.3 459.0,1216.7 459.7,1220.0"/>
<polygon points="936.4,1255.3 933.3,1246.2 936.7,1245.7"/>
<polygon points="1061.6,1172.2 1053.8,1166.5 1056.2,1164.2"/>
<polygon points="1124.0,1136.8 1115.8,1131.6 1118.2,1129.1"/>
<polygon points="1148.2,1141.5 1142.3,1133.9 1145.3,1132.3"/>
<polygon points="1238.6,1126.6 1231.1,1120.5 1233.7,1118.3"/>
<polygon points="1271.2,1114.5 1264.1,1107.9 1266.8,1105.9"/>
<polygon points="1295.4,1099.6 1289.9,1091.6 1293.0,1090.2"/>
<polygon points="1407.5,1055.7 1400.5,1049.1 1403.2,1047.1"/>
<polygon points="1434.1,1012.4 1428.1,1004.9 1431.1,1003.3"/>
<polygon points="1521.6,1027.2 1515.4,1019.8 1518.4,1018.1"/>
<polygon points="1553.1,979.0 1547.6,971.1 1550.7,969.7"/>
<polygon points="1590.4,955.4 1585.1,947.4 1588.2,946.0"/>
<polygon points="1622.9,949.5 1618.3,941.0 1621.6,939.9"/>
<polygon points="1652.2,938.7 1648.3,929.8 1651.6,929.1"/>
<polygon points="1716.9,565.6 1724.6,559.8 1726.2,562.8"/>
<polygon points="1720.3,591.8 1728.4,586.6 1729.7,589.7"/>
<polygon points="1727.7,614.7 1736.1,610.0 1737.2,613.2"/>
<polygon points="1761.3,671.2 1769.1,665.5 1770.6,668.6"/>
<polygon points="1757.3,720.3 1764.9,714.4 1766.5,717.4"/>
<polygon points="1700.0,811.2 1707.2,804.7 1709.0,807.6"/>
<polygon points="1752.2,827.1 1759.6,821.0 1761.3,823.9"/>
<polygon points="1752.2,864.1 1760.2,858.7 1761.6,861.8"/>
<polygon points="2207.8,661.8 2216.2,656.9 2217.3,660.1"/>
<polygon points="2127.1,765.3 2135.5,760.5 2136.6,763.7"/>
<polygon points="1739.1,961.9 1746.9,956.2 1748.4,959.2"/>
<polygon points="1720.3,1011.9 1728.6,1007.0 1729.8,1010.2"/>
<polygon points="1733.3,1059.6 1741.5,1054.4 1742.8,1057.5"/>
<polygon points="1727.5,1108.1 1735.8,1103.1 1737.0,1106.3"/>
<polygon points="1721.7,1152.3 1730.2,1147.6 1731.3,1150.8"/>
<polygon points="1795.7,1198.0 1803.0,1191.7 1804.7,1194.6"/>
<polygon points="1828.1,1301.3 1835.9,1295.5 1837.4,1298.6"/>
<polygon points="1819.3,1363.3 1827.2,1357.8 1828.6,1360.9"/>
<polygon points="1795.7,1391.8 1804.4,1387.7 1805.3,1391.0"/>
<polygon points="1739.1,1462.0 1748.4,1459.2 1748.8,1462.6"/>
<polygon points="1733.3,1491.4 1742.8,1489.7 1742.8,1493.1"/>
<polygon points="1718.8,1523.3 1728.4,1522.2 1728.2,1525.5"/>
<polygon points="1717.4,1548.3 1727.0,1548.3 1726.4,1551.7"/>
<polygon points="1750.7,1586.7 1760.3,1587.5 1759.4,1590.8"/>
<polygon points="1758.0,1632.3 1767.6,1633.4 1766.6,1636.7"/>
<polygon points="1534.1,1246.2 1524.7,1243.9 1526.1,1240.8"/>
<polygon points="1615.7,1358.3 1606.6,1355.2 1608.2,1352.2"/>
<polygon points="1704.2,1411.4 1694.6,1412.4 1694.9,1409.0"/>
<polygon points="1253.3,1514.5 1262.2,1510.8 1262.9,1514.2"/>
</g></g>
<g id="labels">
<circle class="lc" cx="974.0" cy="590.0" r="19"/>
<circle class="lc" cx="926.7" cy="616.0" r="19"/>
<circle class="lc" cx="877.0" cy="635.0" r="19"/>
<circle class="lc" cx="843.0" cy="655.7" r="19"/>
<circle class="lc" cx="804.7" cy="674.0" r="19"/>
<circle class="lc" cx="765.0" cy="689.0" r="19"/>
<circle class="lc" cx="727.0" cy="714.0" r="19"/>
<circle class="lc" cx="689.0" cy="734.0" r="19"/>
<circle class="lc" cx="652.0" cy="746.7" r="19"/>
<circle class="lc" cx="618.0" cy="768.0" r="19"/>
<circle class="lc" cx="581.7" cy="788.0" r="19"/>
<circle class="lc" cx="545.0" cy="805.0" r="19"/>
<circle class="lc" cx="508.0" cy="823.0" r="19"/>
<circle class="lc" cx="467.0" cy="838.0" r="19"/>
<circle class="lc" cx="467.0" cy="798.0" r="19"/>
<circle class="lc" cx="468.0" cy="755.0" r="19"/>
<circle class="lc" cx="468.0" cy="702.7" r="19"/>
<circle class="lc" cx="467.0" cy="656.7" r="19"/>
<circle class="lc" cx="467.0" cy="611.0" r="19"/>
<circle class="lc" cx="467.0" cy="565.7" r="19"/>
<circle class="lc" cx="467.0" cy="520.0" r="19"/>
<circle class="lc" cx="138.0" cy="560.7" r="19"/>
<circle class="lc" cx="102.7" cy="579.0" r="19"/>
<circle class="lc" cx="68.0" cy="599.0" r="19"/>
<circle class="lc" cx="102.0" cy="745.0" r="19"/>
<circle class="lc" cx="181.7" cy="808.0" r="19"/>
<circle class="lc" cx="134.0" cy="830.0" r="19"/>
<circle class="lc" cx="170.7" cy="1025.0" r="19"/>
<circle class="lc" cx="121.7" cy="1049.0" r="19"/>
<circle class="lc" cx="70.7" cy="1079.7" r="19"/>
<circle class="lc" cx="465.0" cy="980.0" r="19"/>
<circle class="lc" cx="461.7" cy="1021.7" r="19"/>
<circle class="lc" cx="468.2" cy="1057.5" r="19"/>
<circle class="lc" cx="350.0" cy="1103.0" r="19"/>
<circle class="lc" cx="311.7" cy="1119.0" r="19"/>
<circle class="lc" cx="270.7" cy="1140.0" r="19"/>
<circle class="lc" cx="215.0" cy="1169.0" r="19"/>
<circle class="lc" cx="763.0" cy="1055.7" r="19"/>
<circle class="lc" cx="764.0" cy="1099.0" r="19"/>
<circle class="lc" cx="764.7" cy="1139.0" r="19"/>
<circle class="lc" cx="766.0" cy="1186.7" r="19"/>
<circle class="lc" cx="768.0" cy="1235.7" r="19"/>
<circle class="lc" cx="753.0" cy="1460.7" r="19"/>
<circle class="lc" cx="751.0" cy="1507.0" r="19"/>
<circle class="lc" cx="753.0" cy="1547.0" r="19"/>
<circle class="lc" cx="753.0" cy="1600.0" r="19"/>
<circle class="lc" cx="754.0" cy="1648.0" r="19"/>
<circle class="lc" cx="755.0" cy="1740.0" r="19"/>
<circle class="lc" cx="1245.7" cy="1320.0" r="19"/>
<circle class="lc" cx="1251.0" cy="1412.0" r="19"/>
<circle class="lc" cx="1251.0" cy="1470.0" r="19"/>
<circle class="lc" cx="1252.0" cy="1564.0" r="19"/>
<circle class="lc" cx="460.0" cy="1471.7" r="19"/>
<circle class="lc" cx="526.0" cy="1404.7" r="19"/>
<circle class="lc" cx="530.0" cy="1343.0" r="19"/>
<circle class="lc" cx="528.0" cy="1286.7" r="19"/>
<circle class="lc" cx="530.0" cy="1209.0" r="19"/>
<circle class="lc" cx="915.0" cy="1102.0" r="19"/>
<circle class="lc" cx="967.0" cy="1073.0" r="19"/>
<circle class="lc" cx="1025.7" cy="1044.0" r="19"/>
<circle class="lc" cx="1080.7" cy="1014.0" r="19"/>
<circle class="lc" cx="1124.0" cy="994.0" r="19"/>
<circle class="lc" cx="1167.0" cy="975.0" r="19"/>
<circle class="lc" cx="1219.8" cy="942.2" r="19"/>
<circle class="lc" cx="1298.0" cy="910.0" r="19"/>
<circle class="lc" cx="1360.0" cy="875.7" r="19"/>
<circle class="lc" cx="1420.0" cy="847.7" r="19"/>
<circle class="lc" cx="1478.7" cy="820.0" r="19"/>
<circle class="lc" cx="1520.0" cy="798.0" r="19"/>
<circle class="lc" cx="1561.0" cy="773.0" r="19"/>
<circle class="lc" cx="1604.7" cy="748.0" r="19"/>
<circle class="lc" cx="1925.0" cy="457.0" r="19"/>
<circle class="lc" cx="1924.0" cy="504.0" r="19"/>
<circle class="lc" cx="1924.0" cy="545.0" r="19"/>
<circle class="lc" cx="1924.0" cy="590.0" r="19"/>
<circle class="lc" cx="1921.7" cy="632.7" r="19"/>
<circle class="lc" cx="1924.0" cy="673.0" r="19"/>
<circle class="lc" cx="1830.0" cy="778.0" r="19"/>
<circle class="lc" cx="1832.0" cy="823.0" r="19"/>
<circle class="lc" cx="2281.7" cy="634.0" r="19"/>
<circle class="lc" cx="2281.7" cy="709.0" r="19"/>
<circle class="lc" cx="1832.0" cy="912.7" r="19"/>
<circle class="lc" cx="1912.0" cy="940.0" r="19"/>
<circle class="lc" cx="1911.0" cy="985.0" r="19"/>
<circle class="lc" cx="1912.0" cy="1033.0" r="19"/>
<circle class="lc" cx="1913.0" cy="1085.7" r="19"/>
<circle class="lc" cx="1913.0" cy="1129.0" r="19"/>
<circle class="lc" cx="1912.0" cy="1255.7" r="19"/>
<circle class="lc" cx="1913.0" cy="1320.7" r="19"/>
<circle class="lc" cx="1913.0" cy="1362.0" r="19"/>
<circle class="lc" cx="1873.7" cy="1446.0" r="19"/>
<circle class="lc" cx="1873.7" cy="1490.7" r="19"/>
<circle class="lc" cx="1873.7" cy="1533.0" r="19"/>
<circle class="lc" cx="1871.0" cy="1580.7" r="19"/>
<circle class="lc" cx="1871.0" cy="1627.0" r="19"/>
<circle class="lc" cx="1873.7" cy="1675.7" r="19"/>
<circle class="lc" cx="1492.0" cy="1234.7" r="19"/>
<circle class="lc" cx="1492.0" cy="1286.0" r="19"/>
<circle class="lc" cx="1493.7" cy="1396.0" r="19"/>
<circle class="lc" cx="1493.7" cy="1460.7" r="19"/>
<text class="lt" x="974.0" y="598.4">1</text>
<text class="lt" x="926.7" y="624.4">2</text>
<text class="lt" x="877.0" y="643.4">3</text>
<text class="lt" x="843.0" y="664.1">4</text>
<text class="lt" x="804.7" y="682.4">5</text>
<text class="lt" x="765.0" y="697.4">6</text>
<text class="lt" x="727.0" y="722.4">7</text>
<text class="lt" x="689.0" y="742.4">9</text>
<text class="lt" x="652.0" y="755.1">10</text>
<text class="lt" x="618.0" y="776.4">11</text>
<text class="lt" x="581.7" y="796.4">12</text>
<text class="lt" x="545.0" y="813.4">13</text>
<text class="lt" x="508.0" y="831.4">14</text>
<text class="lt" x="467.0" y="846.4">16</text>
<text class="lt" x="467.0" y="806.4">17</text>
<text class="lt" x="468.0" y="763.4">18</text>
<text class="lt" x="468.0" y="711.1">19</text>
<text class="lt" x="467.0" y="665.1">20</text>
<text class="lt" x="467.0" y="619.4">21</text>
<text class="lt" x="467.0" y="574.1">22</text>
<text class="lt" x="467.0" y="528.4">23</text>
<text class="lt" x="138.0" y="569.1">24</text>
<text class="lt" x="102.7" y="587.4">25</text>
<text class="lt" x="68.0" y="607.4">26</text>
<text class="lt" x="102.0" y="753.4">27</text>
<text class="lt" x="181.7" y="816.4">28</text>
<text class="lt" x="134.0" y="838.4">29</text>
<text class="lt" x="170.7" y="1033.4">31</text>
<text class="lt" x="121.7" y="1057.4">32</text>
<text class="lt" x="70.7" y="1088.1">33</text>
<text class="lt" x="465.0" y="988.4">34</text>
<text class="lt" x="461.7" y="1030.1">35</text>
<text class="lt" x="468.2" y="1065.9">36</text>
<text class="lt" x="350.0" y="1111.4">37</text>
<text class="lt" x="311.7" y="1127.4">38</text>
<text class="lt" x="270.7" y="1148.4">39</text>
<text class="lt" x="215.0" y="1177.4">40</text>
<text class="lt" x="763.0" y="1064.1">41</text>
<text class="lt" x="764.0" y="1107.4">42</text>
<text class="lt" x="764.7" y="1147.4">43</text>
<text class="lt" x="766.0" y="1195.1">44</text>
<text class="lt" x="768.0" y="1244.1">45</text>
<text class="lt" x="753.0" y="1469.1">46</text>
<text class="lt" x="751.0" y="1515.4">47</text>
<text class="lt" x="753.0" y="1555.4">48</text>
<text class="lt" x="753.0" y="1608.4">49</text>
<text class="lt" x="754.0" y="1656.4">50</text>
<text class="lt" x="755.0" y="1748.4">52</text>
<text class="lt" x="1245.7" y="1328.4">53</text>
<text class="lt" x="1251.0" y="1420.4">54</text>
<text class="lt" x="1251.0" y="1478.4">55</text>
<text class="lt" x="1252.0" y="1572.4">56</text>
<text class="lt" x="460.0" y="1480.1">57</text>
<text class="lt" x="526.0" y="1413.1">58</text>
<text class="lt" x="530.0" y="1351.4">59</text>
<text class="lt" x="528.0" y="1295.1">60</text>
<text class="lt" x="530.0" y="1217.4">61</text>
<text class="lt" x="915.0" y="1110.4">62</text>
<text class="lt" x="967.0" y="1081.4">63</text>
<text class="lt" x="1025.7" y="1052.4">64</text>
<text class="lt" x="1080.7" y="1022.4">65</text>
<text class="lt" x="1124.0" y="1002.4">66</text>
<text class="lt" x="1167.0" y="983.4">67</text>
<text class="lt" x="1219.8" y="950.6">68</text>
<text class="lt" x="1298.0" y="918.4">69</text>
<text class="lt" x="1360.0" y="884.1">70</text>
<text class="lt" x="1420.0" y="856.1">71</text>
<text class="lt" x="1478.7" y="828.4">72</text>
<text class="lt" x="1520.0" y="806.4">73</text>
<text class="lt" x="1561.0" y="781.4">74</text>
<text class="lt" x="1604.7" y="756.4">75</text>
<text class="lt" x="1925.0" y="465.4">76</text>
<text class="lt" x="1924.0" y="512.4">77</text>
<text class="lt" x="1924.0" y="553.4">78</text>
<text class="lt" x="1924.0" y="598.4">79</text>
<text class="lt" x="1921.7" y="641.1">80</text>
<text class="lt" x="1924.0" y="681.4">81</text>
<text class="lt" x="1830.0" y="786.4">82</text>
<text class="lt" x="1832.0" y="831.4">83</text>
<text class="lt" x="2281.7" y="642.4">84</text>
<text class="lt" x="2281.7" y="717.4">85</text>
<text class="lt" x="1832.0" y="921.1">86</text>
<text class="lt" x="1912.0" y="948.4">87</text>
<text class="lt" x="1911.0" y="993.4">88</text>
<text class="lt" x="1912.0" y="1041.4">89</text>
<text class="lt" x="1913.0" y="1094.1">90</text>
<text class="lt" x="1913.0" y="1137.4">91</text>
<text class="lt" x="1912.0" y="1264.1">92</text>
<text class="lt" x="1913.0" y="1329.1">93</text>
<text class="lt" x="1913.0" y="1370.4">94</text>
<text class="lt" x="1873.7" y="1454.4">95</text>
<text class="lt" x="1873.7" y="1499.1">96</text>
<text class="lt" x="1873.7" y="1541.4">97</text>
<text class="lt" x="1871.0" y="1589.1">98</text>
<text class="lt" x="1871.0" y="1635.4">99</text>
<text class="lt" x="1873.7" y="1684.1" textLength="37" lengthAdjust="spacingAndGlyphs">100</text>
<text class="lt" x="1492.0" y="1243.1" textLength="37" lengthAdjust="spacingAndGlyphs">101</text>
<text class="lt" x="1492.0" y="1294.4" textLength="37" lengthAdjust="spacingAndGlyphs">102</text>
<text class="lt" x="1493.7" y="1404.4" textLength="37" lengthAdjust="spacingAndGlyphs">103</text>
<text class="lt" x="1493.7" y="1469.1" textLength="37" lengthAdjust="spacingAndGlyphs">104</text>
</g>

<line x1="0" y1="1793.3" x2="1500" y2="1793.3" stroke="#222" stroke-width="1.2"/>
<rect x="31" y="1828.3" width="215.3" height="59.4" fill="#808083"/>
<g transform="translate(30,1825) scale(0.11388)">
<polygon points="320,122 488,290 320,458 152,290" fill="#fff"/>
<g fill="#808083"><rect x="120" y="213" width="265" height="38" rx="16"/><rect x="120" y="279" width="218" height="27" rx="10"/><rect x="120" y="334" width="265" height="38" rx="16"/><rect x="120" y="213" width="100" height="159"/></g>
<rect x="148" y="250" width="195" height="30" rx="14" fill="#fff"/><rect x="148" y="305" width="195" height="30" rx="14" fill="#fff"/>
</g>
<text x="93.5" y="1870" font-family="Liberation Sans, sans-serif" font-weight="bold" font-size="35" fill="#fff" stroke="#fff" stroke-width="1.6" stroke-linejoin="round" textLength="137" lengthAdjust="spacingAndGlyphs">ЗУБР</text>
<text x="289.5" y="1873.3" font-family="Liberation Sans, sans-serif" font-size="37" fill="#111" textLength="199" lengthAdjust="spacingAndGlyphs">ЗПС-1400 Э.</text>
<text x="499.5" y="1873.3" font-family="Liberation Sans, sans-serif" font-size="33" fill="#333" textLength="602" lengthAdjust="spacingAndGlyphs">Схема 1-1 (Схема-состав. Пила сабельная)</text>

</svg></body></html>
